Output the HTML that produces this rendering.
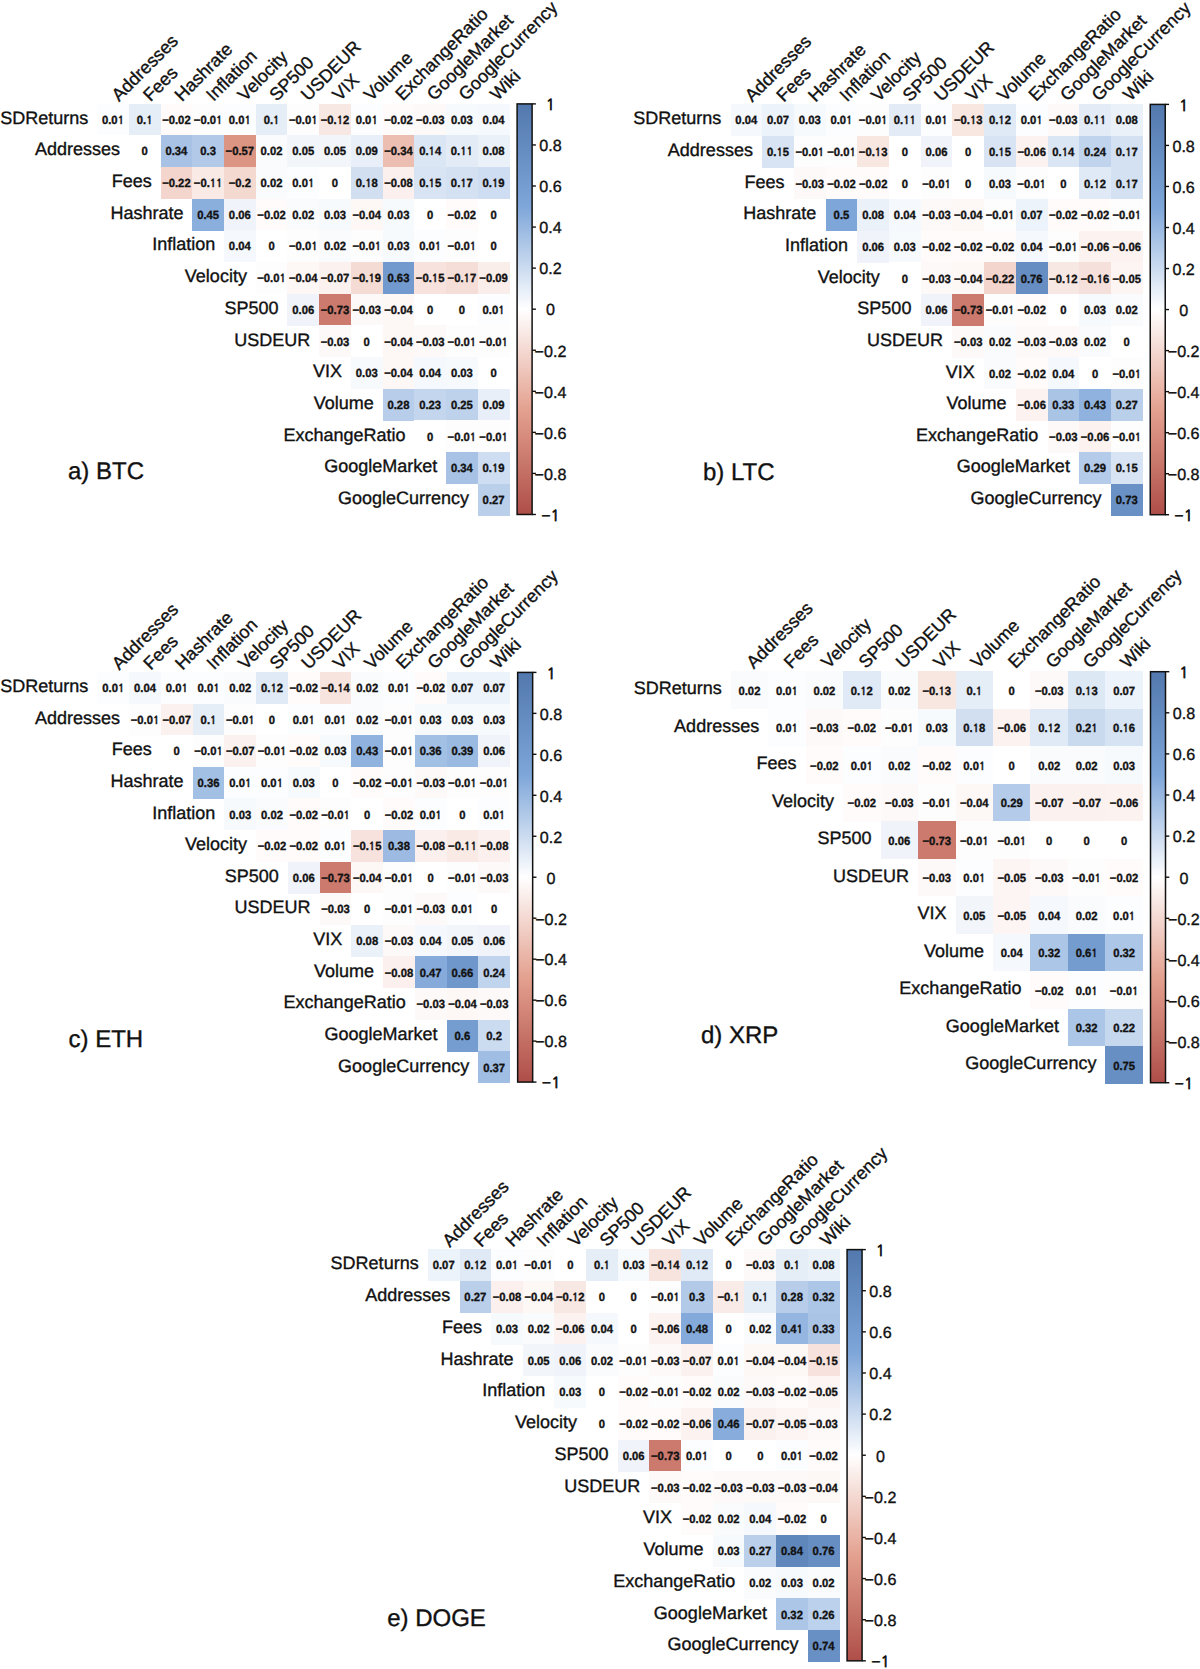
<!DOCTYPE html>
<html lang="en"><head><meta charset="utf-8"><title>Correlation matrices</title>
<style>
html,body{margin:0;padding:0;background:#fff}
svg{display:block}
text{font-family:"Liberation Sans",Arial,Helvetica,sans-serif;fill:#111;stroke:#111;stroke-width:.35px}
.num text{font-size:11.85px;font-weight:700;text-anchor:middle}
.rl text{font-size:18px;text-anchor:end}
.tl text{font-size:18px;text-anchor:start}
.cb text{font-size:16.1px;text-anchor:middle}
.ttl{font-size:24px}
.o{font-family:"NanumGothic","Liberation Sans",sans-serif;font-size:92.6%}
.cb .o{stroke-width:.75px;font-size:95%}
</style></head><body>
<svg width="1200" height="1669" viewBox="0 0 1200 1669" shape-rendering="crispEdges" text-rendering="geometricPrecision">
<defs><linearGradient id="g" x1="0" y1="0" x2="0" y2="1"><stop offset="0.000" stop-color="#5278ad"/><stop offset="0.250" stop-color="#7ea6d9"/><stop offset="0.500" stop-color="#ffffff"/><stop offset="0.750" stop-color="#e39f8d"/><stop offset="1.000" stop-color="#ae4e48"/></linearGradient></defs>
<rect width="1200" height="1669" fill="#fff"/>
<g class="panel" id="btc">
<rect x="97.10" y="103.50" width="32.02" height="31.98" fill="#fcfdfe"/>
<rect x="128.82" y="103.50" width="32.02" height="31.98" fill="#e5edf7"/>
<rect x="160.54" y="103.50" width="32.02" height="31.98" fill="#fefbfa"/>
<rect x="192.26" y="103.50" width="32.02" height="31.98" fill="#fefdfd"/>
<rect x="223.98" y="103.50" width="32.02" height="31.98" fill="#fcfdfe"/>
<rect x="255.70" y="103.50" width="32.02" height="31.98" fill="#e5edf7"/>
<rect x="287.42" y="103.50" width="32.02" height="31.98" fill="#fefdfd"/>
<rect x="319.14" y="103.50" width="32.02" height="31.98" fill="#f8e8e4"/>
<rect x="350.86" y="103.50" width="32.02" height="31.98" fill="#fcfdfe"/>
<rect x="382.58" y="103.50" width="32.02" height="31.98" fill="#fefbfa"/>
<rect x="414.30" y="103.50" width="32.02" height="31.98" fill="#fdf9f8"/>
<rect x="446.02" y="103.50" width="32.02" height="31.98" fill="#f7fafd"/>
<rect x="477.74" y="103.50" width="32.02" height="31.98" fill="#f5f8fc"/>
<rect x="128.82" y="135.18" width="32.02" height="31.98" fill="#ffffff"/>
<rect x="160.54" y="135.18" width="32.02" height="31.98" fill="#a7c2e5"/>
<rect x="192.26" y="135.18" width="32.02" height="31.98" fill="#b2cae8"/>
<rect x="223.98" y="135.18" width="32.02" height="31.98" fill="#dc9483"/>
<rect x="255.70" y="135.18" width="32.02" height="31.98" fill="#fafbfd"/>
<rect x="287.42" y="135.18" width="32.02" height="31.98" fill="#f2f6fb"/>
<rect x="319.14" y="135.18" width="32.02" height="31.98" fill="#f2f6fb"/>
<rect x="350.86" y="135.18" width="32.02" height="31.98" fill="#e8eff8"/>
<rect x="382.58" y="135.18" width="32.02" height="31.98" fill="#ecbeb1"/>
<rect x="414.30" y="135.18" width="32.02" height="31.98" fill="#dbe6f4"/>
<rect x="446.02" y="135.18" width="32.02" height="31.98" fill="#e3ebf7"/>
<rect x="477.74" y="135.18" width="32.02" height="31.98" fill="#eaf1f9"/>
<rect x="160.54" y="166.86" width="32.02" height="31.98" fill="#f3d5cd"/>
<rect x="192.26" y="166.86" width="32.02" height="31.98" fill="#f9eae6"/>
<rect x="223.98" y="166.86" width="32.02" height="31.98" fill="#f4d9d1"/>
<rect x="255.70" y="166.86" width="32.02" height="31.98" fill="#fafbfd"/>
<rect x="287.42" y="166.86" width="32.02" height="31.98" fill="#fcfdfe"/>
<rect x="319.14" y="166.86" width="32.02" height="31.98" fill="#ffffff"/>
<rect x="350.86" y="166.86" width="32.02" height="31.98" fill="#d1dff1"/>
<rect x="382.58" y="166.86" width="32.02" height="31.98" fill="#fbf0ed"/>
<rect x="414.30" y="166.86" width="32.02" height="31.98" fill="#d8e4f4"/>
<rect x="446.02" y="166.86" width="32.02" height="31.98" fill="#d3e1f2"/>
<rect x="477.74" y="166.86" width="32.02" height="31.98" fill="#ceddf1"/>
<rect x="192.26" y="198.54" width="32.02" height="31.98" fill="#8bafdd"/>
<rect x="223.98" y="198.54" width="32.02" height="31.98" fill="#f0f4fa"/>
<rect x="255.70" y="198.54" width="32.02" height="31.98" fill="#fefbfa"/>
<rect x="287.42" y="198.54" width="32.02" height="31.98" fill="#fafbfd"/>
<rect x="319.14" y="198.54" width="32.02" height="31.98" fill="#f7fafd"/>
<rect x="350.86" y="198.54" width="32.02" height="31.98" fill="#fdf7f6"/>
<rect x="382.58" y="198.54" width="32.02" height="31.98" fill="#f7fafd"/>
<rect x="414.30" y="198.54" width="32.02" height="31.98" fill="#ffffff"/>
<rect x="446.02" y="198.54" width="32.02" height="31.98" fill="#fefbfa"/>
<rect x="477.74" y="198.54" width="32.02" height="31.98" fill="#ffffff"/>
<rect x="223.98" y="230.22" width="32.02" height="31.98" fill="#f5f8fc"/>
<rect x="255.70" y="230.22" width="32.02" height="31.98" fill="#ffffff"/>
<rect x="287.42" y="230.22" width="32.02" height="31.98" fill="#fefdfd"/>
<rect x="319.14" y="230.22" width="32.02" height="31.98" fill="#fafbfd"/>
<rect x="350.86" y="230.22" width="32.02" height="31.98" fill="#fefdfd"/>
<rect x="382.58" y="230.22" width="32.02" height="31.98" fill="#f7fafd"/>
<rect x="414.30" y="230.22" width="32.02" height="31.98" fill="#fcfdfe"/>
<rect x="446.02" y="230.22" width="32.02" height="31.98" fill="#fefdfd"/>
<rect x="477.74" y="230.22" width="32.02" height="31.98" fill="#ffffff"/>
<rect x="255.70" y="261.90" width="32.02" height="31.98" fill="#fefdfd"/>
<rect x="287.42" y="261.90" width="32.02" height="31.98" fill="#fdf7f6"/>
<rect x="319.14" y="261.90" width="32.02" height="31.98" fill="#fbf2ef"/>
<rect x="350.86" y="261.90" width="32.02" height="31.98" fill="#f4dbd4"/>
<rect x="382.58" y="261.90" width="32.02" height="31.98" fill="#739ace"/>
<rect x="414.30" y="261.90" width="32.02" height="31.98" fill="#f7e2dd"/>
<rect x="446.02" y="261.90" width="32.02" height="31.98" fill="#f5ded8"/>
<rect x="477.74" y="261.90" width="32.02" height="31.98" fill="#faeeea"/>
<rect x="287.42" y="293.58" width="32.02" height="31.98" fill="#f0f4fa"/>
<rect x="319.14" y="293.58" width="32.02" height="31.98" fill="#cb7a6d"/>
<rect x="350.86" y="293.58" width="32.02" height="31.98" fill="#fdf9f8"/>
<rect x="382.58" y="293.58" width="32.02" height="31.98" fill="#fdf7f6"/>
<rect x="414.30" y="293.58" width="32.02" height="31.98" fill="#ffffff"/>
<rect x="446.02" y="293.58" width="32.02" height="31.98" fill="#ffffff"/>
<rect x="477.74" y="293.58" width="32.02" height="31.98" fill="#fcfdfe"/>
<rect x="319.14" y="325.26" width="32.02" height="31.98" fill="#fdf9f8"/>
<rect x="350.86" y="325.26" width="32.02" height="31.98" fill="#ffffff"/>
<rect x="382.58" y="325.26" width="32.02" height="31.98" fill="#fdf7f6"/>
<rect x="414.30" y="325.26" width="32.02" height="31.98" fill="#fdf9f8"/>
<rect x="446.02" y="325.26" width="32.02" height="31.98" fill="#fefdfd"/>
<rect x="477.74" y="325.26" width="32.02" height="31.98" fill="#fefdfd"/>
<rect x="350.86" y="356.94" width="32.02" height="31.98" fill="#f7fafd"/>
<rect x="382.58" y="356.94" width="32.02" height="31.98" fill="#fdf7f6"/>
<rect x="414.30" y="356.94" width="32.02" height="31.98" fill="#f5f8fc"/>
<rect x="446.02" y="356.94" width="32.02" height="31.98" fill="#f7fafd"/>
<rect x="477.74" y="356.94" width="32.02" height="31.98" fill="#ffffff"/>
<rect x="382.58" y="388.62" width="32.02" height="31.98" fill="#b7cdea"/>
<rect x="414.30" y="388.62" width="32.02" height="31.98" fill="#c4d6ee"/>
<rect x="446.02" y="388.62" width="32.02" height="31.98" fill="#bed2ec"/>
<rect x="477.74" y="388.62" width="32.02" height="31.98" fill="#e8eff8"/>
<rect x="414.30" y="420.30" width="32.02" height="31.98" fill="#ffffff"/>
<rect x="446.02" y="420.30" width="32.02" height="31.98" fill="#fefdfd"/>
<rect x="477.74" y="420.30" width="32.02" height="31.98" fill="#fefdfd"/>
<rect x="446.02" y="451.98" width="32.02" height="31.98" fill="#a7c2e5"/>
<rect x="477.74" y="451.98" width="32.02" height="31.98" fill="#ceddf1"/>
<rect x="477.74" y="483.66" width="32.02" height="31.98" fill="#b9cfea"/>
<g class="num">
<text transform="translate(112.96 123.74) scale(0.952 1)">0.0<tspan class="o">1</tspan></text>
<text transform="translate(144.68 123.74) scale(0.952 1)">0.<tspan class="o">1</tspan></text>
<text transform="translate(176.40 123.74) scale(0.952 1)">−0.02</text>
<text transform="translate(208.12 123.74) scale(0.952 1)">−0.0<tspan class="o">1</tspan></text>
<text transform="translate(239.84 123.74) scale(0.952 1)">0.0<tspan class="o">1</tspan></text>
<text transform="translate(271.56 123.74) scale(0.952 1)">0.<tspan class="o">1</tspan></text>
<text transform="translate(303.28 123.74) scale(0.952 1)">−0.0<tspan class="o">1</tspan></text>
<text transform="translate(335.00 123.74) scale(0.952 1)">−0.<tspan class="o">1</tspan>2</text>
<text transform="translate(366.72 123.74) scale(0.952 1)">0.0<tspan class="o">1</tspan></text>
<text transform="translate(398.44 123.74) scale(0.952 1)">−0.02</text>
<text transform="translate(430.16 123.74) scale(0.952 1)">−0.03</text>
<text transform="translate(461.88 123.74) scale(0.952 1)">0.03</text>
<text transform="translate(493.60 123.74) scale(0.952 1)">0.04</text>
<text transform="translate(144.68 155.42) scale(0.952 1)">0</text>
<text transform="translate(176.40 155.42) scale(0.952 1)">0.34</text>
<text transform="translate(208.12 155.42) scale(0.952 1)">0.3</text>
<text transform="translate(239.84 155.42) scale(0.952 1)">−0.57</text>
<text transform="translate(271.56 155.42) scale(0.952 1)">0.02</text>
<text transform="translate(303.28 155.42) scale(0.952 1)">0.05</text>
<text transform="translate(335.00 155.42) scale(0.952 1)">0.05</text>
<text transform="translate(366.72 155.42) scale(0.952 1)">0.09</text>
<text transform="translate(398.44 155.42) scale(0.952 1)">−0.34</text>
<text transform="translate(430.16 155.42) scale(0.952 1)">0.<tspan class="o">1</tspan>4</text>
<text transform="translate(461.88 155.42) scale(0.952 1)">0.<tspan class="o">11</tspan></text>
<text transform="translate(493.60 155.42) scale(0.952 1)">0.08</text>
<text transform="translate(176.40 187.10) scale(0.952 1)">−0.22</text>
<text transform="translate(208.12 187.10) scale(0.952 1)">−0.<tspan class="o">11</tspan></text>
<text transform="translate(239.84 187.10) scale(0.952 1)">−0.2</text>
<text transform="translate(271.56 187.10) scale(0.952 1)">0.02</text>
<text transform="translate(303.28 187.10) scale(0.952 1)">0.0<tspan class="o">1</tspan></text>
<text transform="translate(335.00 187.10) scale(0.952 1)">0</text>
<text transform="translate(366.72 187.10) scale(0.952 1)">0.<tspan class="o">1</tspan>8</text>
<text transform="translate(398.44 187.10) scale(0.952 1)">−0.08</text>
<text transform="translate(430.16 187.10) scale(0.952 1)">0.<tspan class="o">1</tspan>5</text>
<text transform="translate(461.88 187.10) scale(0.952 1)">0.<tspan class="o">1</tspan>7</text>
<text transform="translate(493.60 187.10) scale(0.952 1)">0.<tspan class="o">1</tspan>9</text>
<text transform="translate(208.12 218.78) scale(0.952 1)">0.45</text>
<text transform="translate(239.84 218.78) scale(0.952 1)">0.06</text>
<text transform="translate(271.56 218.78) scale(0.952 1)">−0.02</text>
<text transform="translate(303.28 218.78) scale(0.952 1)">0.02</text>
<text transform="translate(335.00 218.78) scale(0.952 1)">0.03</text>
<text transform="translate(366.72 218.78) scale(0.952 1)">−0.04</text>
<text transform="translate(398.44 218.78) scale(0.952 1)">0.03</text>
<text transform="translate(430.16 218.78) scale(0.952 1)">0</text>
<text transform="translate(461.88 218.78) scale(0.952 1)">−0.02</text>
<text transform="translate(493.60 218.78) scale(0.952 1)">0</text>
<text transform="translate(239.84 250.46) scale(0.952 1)">0.04</text>
<text transform="translate(271.56 250.46) scale(0.952 1)">0</text>
<text transform="translate(303.28 250.46) scale(0.952 1)">−0.0<tspan class="o">1</tspan></text>
<text transform="translate(335.00 250.46) scale(0.952 1)">0.02</text>
<text transform="translate(366.72 250.46) scale(0.952 1)">−0.0<tspan class="o">1</tspan></text>
<text transform="translate(398.44 250.46) scale(0.952 1)">0.03</text>
<text transform="translate(430.16 250.46) scale(0.952 1)">0.0<tspan class="o">1</tspan></text>
<text transform="translate(461.88 250.46) scale(0.952 1)">−0.0<tspan class="o">1</tspan></text>
<text transform="translate(493.60 250.46) scale(0.952 1)">0</text>
<text transform="translate(271.56 282.14) scale(0.952 1)">−0.0<tspan class="o">1</tspan></text>
<text transform="translate(303.28 282.14) scale(0.952 1)">−0.04</text>
<text transform="translate(335.00 282.14) scale(0.952 1)">−0.07</text>
<text transform="translate(366.72 282.14) scale(0.952 1)">−0.<tspan class="o">1</tspan>9</text>
<text transform="translate(398.44 282.14) scale(0.952 1)">0.63</text>
<text transform="translate(430.16 282.14) scale(0.952 1)">−0.<tspan class="o">1</tspan>5</text>
<text transform="translate(461.88 282.14) scale(0.952 1)">−0.<tspan class="o">1</tspan>7</text>
<text transform="translate(493.60 282.14) scale(0.952 1)">−0.09</text>
<text transform="translate(303.28 313.82) scale(0.952 1)">0.06</text>
<text transform="translate(335.00 313.82) scale(0.952 1)">−0.73</text>
<text transform="translate(366.72 313.82) scale(0.952 1)">−0.03</text>
<text transform="translate(398.44 313.82) scale(0.952 1)">−0.04</text>
<text transform="translate(430.16 313.82) scale(0.952 1)">0</text>
<text transform="translate(461.88 313.82) scale(0.952 1)">0</text>
<text transform="translate(493.60 313.82) scale(0.952 1)">0.0<tspan class="o">1</tspan></text>
<text transform="translate(335.00 345.50) scale(0.952 1)">−0.03</text>
<text transform="translate(366.72 345.50) scale(0.952 1)">0</text>
<text transform="translate(398.44 345.50) scale(0.952 1)">−0.04</text>
<text transform="translate(430.16 345.50) scale(0.952 1)">−0.03</text>
<text transform="translate(461.88 345.50) scale(0.952 1)">−0.0<tspan class="o">1</tspan></text>
<text transform="translate(493.60 345.50) scale(0.952 1)">−0.0<tspan class="o">1</tspan></text>
<text transform="translate(366.72 377.18) scale(0.952 1)">0.03</text>
<text transform="translate(398.44 377.18) scale(0.952 1)">−0.04</text>
<text transform="translate(430.16 377.18) scale(0.952 1)">0.04</text>
<text transform="translate(461.88 377.18) scale(0.952 1)">0.03</text>
<text transform="translate(493.60 377.18) scale(0.952 1)">0</text>
<text transform="translate(398.44 408.86) scale(0.952 1)">0.28</text>
<text transform="translate(430.16 408.86) scale(0.952 1)">0.23</text>
<text transform="translate(461.88 408.86) scale(0.952 1)">0.25</text>
<text transform="translate(493.60 408.86) scale(0.952 1)">0.09</text>
<text transform="translate(430.16 440.54) scale(0.952 1)">0</text>
<text transform="translate(461.88 440.54) scale(0.952 1)">−0.0<tspan class="o">1</tspan></text>
<text transform="translate(493.60 440.54) scale(0.952 1)">−0.0<tspan class="o">1</tspan></text>
<text transform="translate(461.88 472.22) scale(0.952 1)">0.34</text>
<text transform="translate(493.60 472.22) scale(0.952 1)">0.<tspan class="o">1</tspan>9</text>
<text transform="translate(493.60 503.90) scale(0.952 1)">0.27</text>
</g>
<g class="rl">
<text x="88.30" y="123.74">SDReturns</text>
<text x="120.02" y="155.42">Addresses</text>
<text x="151.74" y="187.10">Fees</text>
<text x="183.46" y="218.78">Hashrate</text>
<text x="215.18" y="250.46">Inflation</text>
<text x="246.90" y="282.14">Velocity</text>
<text x="278.62" y="313.82">SP500</text>
<text x="310.34" y="345.50">USDEUR</text>
<text x="342.06" y="377.18">VIX</text>
<text x="373.78" y="408.86">Volume</text>
<text x="405.50" y="440.54">ExchangeRatio</text>
<text x="437.22" y="472.22">GoogleMarket</text>
<text x="468.94" y="503.90">GoogleCurrency</text>
</g>
<g class="tl">
<text transform="translate(118.96 102.30) rotate(-45)">Addresses</text>
<text transform="translate(150.50 102.22) rotate(-45)">Fees</text>
<text transform="translate(182.04 102.14) rotate(-45)">Hashrate</text>
<text transform="translate(213.58 102.06) rotate(-45)">Inflation</text>
<text transform="translate(245.12 101.98) rotate(-45)">Velocity</text>
<text transform="translate(276.66 101.90) rotate(-45)">SP500</text>
<text transform="translate(308.20 101.82) rotate(-45)">USDEUR</text>
<text transform="translate(339.74 101.74) rotate(-45)">VIX</text>
<text transform="translate(371.28 101.66) rotate(-45)">Volume</text>
<text transform="translate(402.82 101.58) rotate(-45)">ExchangeRatio</text>
<text transform="translate(434.36 101.50) rotate(-45)">GoogleMarket</text>
<text transform="translate(465.90 101.42) rotate(-45)">GoogleCurrency</text>
<text transform="translate(497.44 101.34) rotate(-45)">Wiki</text>
</g>
<rect x="517.10" y="103.90" width="15" height="410.58" fill="url(#g)" stroke="#111" stroke-width="1.5" shape-rendering="geometricPrecision"/>
<g class="cb">
<line x1="532.10" x2="535.90" y1="103.90" y2="103.90" stroke="#111" stroke-width="1.4" shape-rendering="geometricPrecision"/>
<text x="550.50" y="110.20"><tspan class="o">1</tspan></text>
<line x1="532.10" x2="535.90" y1="144.96" y2="144.96" stroke="#111" stroke-width="1.4" shape-rendering="geometricPrecision"/>
<text x="550.50" y="151.26">0.8</text>
<line x1="532.10" x2="535.90" y1="186.02" y2="186.02" stroke="#111" stroke-width="1.4" shape-rendering="geometricPrecision"/>
<text x="550.50" y="192.32">0.6</text>
<line x1="532.10" x2="535.90" y1="227.07" y2="227.07" stroke="#111" stroke-width="1.4" shape-rendering="geometricPrecision"/>
<text x="550.50" y="233.37">0.4</text>
<line x1="532.10" x2="535.90" y1="268.13" y2="268.13" stroke="#111" stroke-width="1.4" shape-rendering="geometricPrecision"/>
<text x="550.50" y="274.43">0.2</text>
<line x1="532.10" x2="535.90" y1="309.19" y2="309.19" stroke="#111" stroke-width="1.4" shape-rendering="geometricPrecision"/>
<text x="550.50" y="315.49">0</text>
<line x1="532.10" x2="535.90" y1="350.25" y2="350.25" stroke="#111" stroke-width="1.4" shape-rendering="geometricPrecision"/>
<text x="550.50" y="356.55">−0.2</text>
<line x1="532.10" x2="535.90" y1="391.31" y2="391.31" stroke="#111" stroke-width="1.4" shape-rendering="geometricPrecision"/>
<text x="550.50" y="397.61">−0.4</text>
<line x1="532.10" x2="535.90" y1="432.36" y2="432.36" stroke="#111" stroke-width="1.4" shape-rendering="geometricPrecision"/>
<text x="550.50" y="438.66">−0.6</text>
<line x1="532.10" x2="535.90" y1="473.42" y2="473.42" stroke="#111" stroke-width="1.4" shape-rendering="geometricPrecision"/>
<text x="550.50" y="479.72">−0.8</text>
<line x1="532.10" x2="535.90" y1="514.48" y2="514.48" stroke="#111" stroke-width="1.4" shape-rendering="geometricPrecision"/>
<text x="550.50" y="520.78">−<tspan class="o">1</tspan></text>
</g>
<text class="ttl" x="68" y="479.3">a) BTC</text>
</g>
<g class="panel" id="ltc">
<rect x="730.50" y="104.00" width="32.00" height="31.96" fill="#f5f8fc"/>
<rect x="762.20" y="104.00" width="32.00" height="31.96" fill="#edf3fa"/>
<rect x="793.90" y="104.00" width="32.00" height="31.96" fill="#f7fafd"/>
<rect x="825.60" y="104.00" width="32.00" height="31.96" fill="#fcfdfe"/>
<rect x="857.30" y="104.00" width="32.00" height="31.96" fill="#fefdfd"/>
<rect x="889.00" y="104.00" width="32.00" height="31.96" fill="#e3ebf7"/>
<rect x="920.70" y="104.00" width="32.00" height="31.96" fill="#fcfdfe"/>
<rect x="952.40" y="104.00" width="32.00" height="31.96" fill="#f8e6e1"/>
<rect x="984.10" y="104.00" width="32.00" height="31.96" fill="#e0eaf6"/>
<rect x="1015.80" y="104.00" width="32.00" height="31.96" fill="#fcfdfe"/>
<rect x="1047.50" y="104.00" width="32.00" height="31.96" fill="#fdf9f8"/>
<rect x="1079.20" y="104.00" width="32.00" height="31.96" fill="#e3ebf7"/>
<rect x="1110.90" y="104.00" width="32.00" height="31.96" fill="#eaf1f9"/>
<rect x="762.20" y="135.66" width="32.00" height="31.96" fill="#d8e4f4"/>
<rect x="793.90" y="135.66" width="32.00" height="31.96" fill="#fefdfd"/>
<rect x="825.60" y="135.66" width="32.00" height="31.96" fill="#fefdfd"/>
<rect x="857.30" y="135.66" width="32.00" height="31.96" fill="#f8e6e1"/>
<rect x="889.00" y="135.66" width="32.00" height="31.96" fill="#ffffff"/>
<rect x="920.70" y="135.66" width="32.00" height="31.96" fill="#f0f4fa"/>
<rect x="952.40" y="135.66" width="32.00" height="31.96" fill="#ffffff"/>
<rect x="984.10" y="135.66" width="32.00" height="31.96" fill="#d8e4f4"/>
<rect x="1015.80" y="135.66" width="32.00" height="31.96" fill="#fcf3f1"/>
<rect x="1047.50" y="135.66" width="32.00" height="31.96" fill="#dbe6f4"/>
<rect x="1079.20" y="135.66" width="32.00" height="31.96" fill="#c1d4ed"/>
<rect x="1110.90" y="135.66" width="32.00" height="31.96" fill="#d3e1f2"/>
<rect x="793.90" y="167.32" width="32.00" height="31.96" fill="#fdf9f8"/>
<rect x="825.60" y="167.32" width="32.00" height="31.96" fill="#fefbfa"/>
<rect x="857.30" y="167.32" width="32.00" height="31.96" fill="#fefbfa"/>
<rect x="889.00" y="167.32" width="32.00" height="31.96" fill="#ffffff"/>
<rect x="920.70" y="167.32" width="32.00" height="31.96" fill="#fefdfd"/>
<rect x="952.40" y="167.32" width="32.00" height="31.96" fill="#ffffff"/>
<rect x="984.10" y="167.32" width="32.00" height="31.96" fill="#f7fafd"/>
<rect x="1015.80" y="167.32" width="32.00" height="31.96" fill="#fefdfd"/>
<rect x="1047.50" y="167.32" width="32.00" height="31.96" fill="#ffffff"/>
<rect x="1079.20" y="167.32" width="32.00" height="31.96" fill="#e0eaf6"/>
<rect x="1110.90" y="167.32" width="32.00" height="31.96" fill="#d3e1f2"/>
<rect x="825.60" y="198.98" width="32.00" height="31.96" fill="#7ea6d9"/>
<rect x="857.30" y="198.98" width="32.00" height="31.96" fill="#eaf1f9"/>
<rect x="889.00" y="198.98" width="32.00" height="31.96" fill="#f5f8fc"/>
<rect x="920.70" y="198.98" width="32.00" height="31.96" fill="#fdf9f8"/>
<rect x="952.40" y="198.98" width="32.00" height="31.96" fill="#fdf7f6"/>
<rect x="984.10" y="198.98" width="32.00" height="31.96" fill="#fefdfd"/>
<rect x="1015.80" y="198.98" width="32.00" height="31.96" fill="#edf3fa"/>
<rect x="1047.50" y="198.98" width="32.00" height="31.96" fill="#fefbfa"/>
<rect x="1079.20" y="198.98" width="32.00" height="31.96" fill="#fefbfa"/>
<rect x="1110.90" y="198.98" width="32.00" height="31.96" fill="#fefdfd"/>
<rect x="857.30" y="230.64" width="32.00" height="31.96" fill="#f0f4fa"/>
<rect x="889.00" y="230.64" width="32.00" height="31.96" fill="#f7fafd"/>
<rect x="920.70" y="230.64" width="32.00" height="31.96" fill="#fefbfa"/>
<rect x="952.40" y="230.64" width="32.00" height="31.96" fill="#fefbfa"/>
<rect x="984.10" y="230.64" width="32.00" height="31.96" fill="#fefbfa"/>
<rect x="1015.80" y="230.64" width="32.00" height="31.96" fill="#f5f8fc"/>
<rect x="1047.50" y="230.64" width="32.00" height="31.96" fill="#fefdfd"/>
<rect x="1079.20" y="230.64" width="32.00" height="31.96" fill="#fcf3f1"/>
<rect x="1110.90" y="230.64" width="32.00" height="31.96" fill="#fcf3f1"/>
<rect x="889.00" y="262.30" width="32.00" height="31.96" fill="#ffffff"/>
<rect x="920.70" y="262.30" width="32.00" height="31.96" fill="#fdf9f8"/>
<rect x="952.40" y="262.30" width="32.00" height="31.96" fill="#fdf7f6"/>
<rect x="984.10" y="262.30" width="32.00" height="31.96" fill="#f3d5cd"/>
<rect x="1015.80" y="262.30" width="32.00" height="31.96" fill="#678ec2"/>
<rect x="1047.50" y="262.30" width="32.00" height="31.96" fill="#f8e8e4"/>
<rect x="1079.20" y="262.30" width="32.00" height="31.96" fill="#f6e0db"/>
<rect x="1110.90" y="262.30" width="32.00" height="31.96" fill="#fcf5f4"/>
<rect x="920.70" y="293.96" width="32.00" height="31.96" fill="#f0f4fa"/>
<rect x="952.40" y="293.96" width="32.00" height="31.96" fill="#cb7a6d"/>
<rect x="984.10" y="293.96" width="32.00" height="31.96" fill="#fefdfd"/>
<rect x="1015.80" y="293.96" width="32.00" height="31.96" fill="#fefbfa"/>
<rect x="1047.50" y="293.96" width="32.00" height="31.96" fill="#ffffff"/>
<rect x="1079.20" y="293.96" width="32.00" height="31.96" fill="#f7fafd"/>
<rect x="1110.90" y="293.96" width="32.00" height="31.96" fill="#fafbfd"/>
<rect x="952.40" y="325.62" width="32.00" height="31.96" fill="#fdf9f8"/>
<rect x="984.10" y="325.62" width="32.00" height="31.96" fill="#fafbfd"/>
<rect x="1015.80" y="325.62" width="32.00" height="31.96" fill="#fdf9f8"/>
<rect x="1047.50" y="325.62" width="32.00" height="31.96" fill="#fdf9f8"/>
<rect x="1079.20" y="325.62" width="32.00" height="31.96" fill="#fafbfd"/>
<rect x="1110.90" y="325.62" width="32.00" height="31.96" fill="#ffffff"/>
<rect x="984.10" y="357.28" width="32.00" height="31.96" fill="#fafbfd"/>
<rect x="1015.80" y="357.28" width="32.00" height="31.96" fill="#fefbfa"/>
<rect x="1047.50" y="357.28" width="32.00" height="31.96" fill="#f5f8fc"/>
<rect x="1079.20" y="357.28" width="32.00" height="31.96" fill="#ffffff"/>
<rect x="1110.90" y="357.28" width="32.00" height="31.96" fill="#fefdfd"/>
<rect x="1015.80" y="388.94" width="32.00" height="31.96" fill="#fcf3f1"/>
<rect x="1047.50" y="388.94" width="32.00" height="31.96" fill="#aac4e6"/>
<rect x="1079.20" y="388.94" width="32.00" height="31.96" fill="#90b2de"/>
<rect x="1110.90" y="388.94" width="32.00" height="31.96" fill="#b9cfea"/>
<rect x="1047.50" y="420.60" width="32.00" height="31.96" fill="#fdf9f8"/>
<rect x="1079.20" y="420.60" width="32.00" height="31.96" fill="#fcf3f1"/>
<rect x="1110.90" y="420.60" width="32.00" height="31.96" fill="#fefdfd"/>
<rect x="1079.20" y="452.26" width="32.00" height="31.96" fill="#b4cbe9"/>
<rect x="1110.90" y="452.26" width="32.00" height="31.96" fill="#d8e4f4"/>
<rect x="1110.90" y="483.92" width="32.00" height="31.96" fill="#6a91c5"/>
<g class="num">
<text transform="translate(746.35 124.23) scale(0.952 1)">0.04</text>
<text transform="translate(778.05 124.23) scale(0.952 1)">0.07</text>
<text transform="translate(809.75 124.23) scale(0.952 1)">0.03</text>
<text transform="translate(841.45 124.23) scale(0.952 1)">0.0<tspan class="o">1</tspan></text>
<text transform="translate(873.15 124.23) scale(0.952 1)">−0.0<tspan class="o">1</tspan></text>
<text transform="translate(904.85 124.23) scale(0.952 1)">0.<tspan class="o">11</tspan></text>
<text transform="translate(936.55 124.23) scale(0.952 1)">0.0<tspan class="o">1</tspan></text>
<text transform="translate(968.25 124.23) scale(0.952 1)">−0.<tspan class="o">1</tspan>3</text>
<text transform="translate(999.95 124.23) scale(0.952 1)">0.<tspan class="o">1</tspan>2</text>
<text transform="translate(1031.65 124.23) scale(0.952 1)">0.0<tspan class="o">1</tspan></text>
<text transform="translate(1063.35 124.23) scale(0.952 1)">−0.03</text>
<text transform="translate(1095.05 124.23) scale(0.952 1)">0.<tspan class="o">11</tspan></text>
<text transform="translate(1126.75 124.23) scale(0.952 1)">0.08</text>
<text transform="translate(778.05 155.89) scale(0.952 1)">0.<tspan class="o">1</tspan>5</text>
<text transform="translate(809.75 155.89) scale(0.952 1)">−0.0<tspan class="o">1</tspan></text>
<text transform="translate(841.45 155.89) scale(0.952 1)">−0.0<tspan class="o">1</tspan></text>
<text transform="translate(873.15 155.89) scale(0.952 1)">−0.<tspan class="o">1</tspan>3</text>
<text transform="translate(904.85 155.89) scale(0.952 1)">0</text>
<text transform="translate(936.55 155.89) scale(0.952 1)">0.06</text>
<text transform="translate(968.25 155.89) scale(0.952 1)">0</text>
<text transform="translate(999.95 155.89) scale(0.952 1)">0.<tspan class="o">1</tspan>5</text>
<text transform="translate(1031.65 155.89) scale(0.952 1)">−0.06</text>
<text transform="translate(1063.35 155.89) scale(0.952 1)">0.<tspan class="o">1</tspan>4</text>
<text transform="translate(1095.05 155.89) scale(0.952 1)">0.24</text>
<text transform="translate(1126.75 155.89) scale(0.952 1)">0.<tspan class="o">1</tspan>7</text>
<text transform="translate(809.75 187.55) scale(0.952 1)">−0.03</text>
<text transform="translate(841.45 187.55) scale(0.952 1)">−0.02</text>
<text transform="translate(873.15 187.55) scale(0.952 1)">−0.02</text>
<text transform="translate(904.85 187.55) scale(0.952 1)">0</text>
<text transform="translate(936.55 187.55) scale(0.952 1)">−0.0<tspan class="o">1</tspan></text>
<text transform="translate(968.25 187.55) scale(0.952 1)">0</text>
<text transform="translate(999.95 187.55) scale(0.952 1)">0.03</text>
<text transform="translate(1031.65 187.55) scale(0.952 1)">−0.0<tspan class="o">1</tspan></text>
<text transform="translate(1063.35 187.55) scale(0.952 1)">0</text>
<text transform="translate(1095.05 187.55) scale(0.952 1)">0.<tspan class="o">1</tspan>2</text>
<text transform="translate(1126.75 187.55) scale(0.952 1)">0.<tspan class="o">1</tspan>7</text>
<text transform="translate(841.45 219.21) scale(0.952 1)">0.5</text>
<text transform="translate(873.15 219.21) scale(0.952 1)">0.08</text>
<text transform="translate(904.85 219.21) scale(0.952 1)">0.04</text>
<text transform="translate(936.55 219.21) scale(0.952 1)">−0.03</text>
<text transform="translate(968.25 219.21) scale(0.952 1)">−0.04</text>
<text transform="translate(999.95 219.21) scale(0.952 1)">−0.0<tspan class="o">1</tspan></text>
<text transform="translate(1031.65 219.21) scale(0.952 1)">0.07</text>
<text transform="translate(1063.35 219.21) scale(0.952 1)">−0.02</text>
<text transform="translate(1095.05 219.21) scale(0.952 1)">−0.02</text>
<text transform="translate(1126.75 219.21) scale(0.952 1)">−0.0<tspan class="o">1</tspan></text>
<text transform="translate(873.15 250.87) scale(0.952 1)">0.06</text>
<text transform="translate(904.85 250.87) scale(0.952 1)">0.03</text>
<text transform="translate(936.55 250.87) scale(0.952 1)">−0.02</text>
<text transform="translate(968.25 250.87) scale(0.952 1)">−0.02</text>
<text transform="translate(999.95 250.87) scale(0.952 1)">−0.02</text>
<text transform="translate(1031.65 250.87) scale(0.952 1)">0.04</text>
<text transform="translate(1063.35 250.87) scale(0.952 1)">−0.0<tspan class="o">1</tspan></text>
<text transform="translate(1095.05 250.87) scale(0.952 1)">−0.06</text>
<text transform="translate(1126.75 250.87) scale(0.952 1)">−0.06</text>
<text transform="translate(904.85 282.53) scale(0.952 1)">0</text>
<text transform="translate(936.55 282.53) scale(0.952 1)">−0.03</text>
<text transform="translate(968.25 282.53) scale(0.952 1)">−0.04</text>
<text transform="translate(999.95 282.53) scale(0.952 1)">−0.22</text>
<text transform="translate(1031.65 282.53) scale(0.952 1)">0.76</text>
<text transform="translate(1063.35 282.53) scale(0.952 1)">−0.<tspan class="o">1</tspan>2</text>
<text transform="translate(1095.05 282.53) scale(0.952 1)">−0.<tspan class="o">1</tspan>6</text>
<text transform="translate(1126.75 282.53) scale(0.952 1)">−0.05</text>
<text transform="translate(936.55 314.19) scale(0.952 1)">0.06</text>
<text transform="translate(968.25 314.19) scale(0.952 1)">−0.73</text>
<text transform="translate(999.95 314.19) scale(0.952 1)">−0.0<tspan class="o">1</tspan></text>
<text transform="translate(1031.65 314.19) scale(0.952 1)">−0.02</text>
<text transform="translate(1063.35 314.19) scale(0.952 1)">0</text>
<text transform="translate(1095.05 314.19) scale(0.952 1)">0.03</text>
<text transform="translate(1126.75 314.19) scale(0.952 1)">0.02</text>
<text transform="translate(968.25 345.85) scale(0.952 1)">−0.03</text>
<text transform="translate(999.95 345.85) scale(0.952 1)">0.02</text>
<text transform="translate(1031.65 345.85) scale(0.952 1)">−0.03</text>
<text transform="translate(1063.35 345.85) scale(0.952 1)">−0.03</text>
<text transform="translate(1095.05 345.85) scale(0.952 1)">0.02</text>
<text transform="translate(1126.75 345.85) scale(0.952 1)">0</text>
<text transform="translate(999.95 377.51) scale(0.952 1)">0.02</text>
<text transform="translate(1031.65 377.51) scale(0.952 1)">−0.02</text>
<text transform="translate(1063.35 377.51) scale(0.952 1)">0.04</text>
<text transform="translate(1095.05 377.51) scale(0.952 1)">0</text>
<text transform="translate(1126.75 377.51) scale(0.952 1)">−0.0<tspan class="o">1</tspan></text>
<text transform="translate(1031.65 409.17) scale(0.952 1)">−0.06</text>
<text transform="translate(1063.35 409.17) scale(0.952 1)">0.33</text>
<text transform="translate(1095.05 409.17) scale(0.952 1)">0.43</text>
<text transform="translate(1126.75 409.17) scale(0.952 1)">0.27</text>
<text transform="translate(1063.35 440.83) scale(0.952 1)">−0.03</text>
<text transform="translate(1095.05 440.83) scale(0.952 1)">−0.06</text>
<text transform="translate(1126.75 440.83) scale(0.952 1)">−0.0<tspan class="o">1</tspan></text>
<text transform="translate(1095.05 472.49) scale(0.952 1)">0.29</text>
<text transform="translate(1126.75 472.49) scale(0.952 1)">0.<tspan class="o">1</tspan>5</text>
<text transform="translate(1126.75 504.15) scale(0.952 1)">0.73</text>
</g>
<g class="rl">
<text x="721.20" y="124.23">SDReturns</text>
<text x="752.90" y="155.89">Addresses</text>
<text x="784.60" y="187.55">Fees</text>
<text x="816.30" y="219.21">Hashrate</text>
<text x="848.00" y="250.87">Inflation</text>
<text x="879.70" y="282.53">Velocity</text>
<text x="911.40" y="314.19">SP500</text>
<text x="943.10" y="345.85">USDEUR</text>
<text x="974.80" y="377.51">VIX</text>
<text x="1006.50" y="409.17">Volume</text>
<text x="1038.20" y="440.83">ExchangeRatio</text>
<text x="1069.90" y="472.49">GoogleMarket</text>
<text x="1101.60" y="504.15">GoogleCurrency</text>
</g>
<g class="tl">
<text transform="translate(752.35 102.80) rotate(-45)">Addresses</text>
<text transform="translate(783.87 102.72) rotate(-45)">Fees</text>
<text transform="translate(815.39 102.64) rotate(-45)">Hashrate</text>
<text transform="translate(846.91 102.56) rotate(-45)">Inflation</text>
<text transform="translate(878.43 102.48) rotate(-45)">Velocity</text>
<text transform="translate(909.95 102.40) rotate(-45)">SP500</text>
<text transform="translate(941.47 102.32) rotate(-45)">USDEUR</text>
<text transform="translate(972.99 102.24) rotate(-45)">VIX</text>
<text transform="translate(1004.51 102.16) rotate(-45)">Volume</text>
<text transform="translate(1036.03 102.08) rotate(-45)">ExchangeRatio</text>
<text transform="translate(1067.55 102.00) rotate(-45)">GoogleMarket</text>
<text transform="translate(1099.07 101.92) rotate(-45)">GoogleCurrency</text>
<text transform="translate(1130.59 101.84) rotate(-45)">Wiki</text>
</g>
<rect x="1150.24" y="104.40" width="15" height="410.32" fill="url(#g)" stroke="#111" stroke-width="1.5" shape-rendering="geometricPrecision"/>
<g class="cb">
<line x1="1165.24" x2="1169.04" y1="104.40" y2="104.40" stroke="#111" stroke-width="1.4" shape-rendering="geometricPrecision"/>
<text x="1183.64" y="110.70"><tspan class="o">1</tspan></text>
<line x1="1165.24" x2="1169.04" y1="145.43" y2="145.43" stroke="#111" stroke-width="1.4" shape-rendering="geometricPrecision"/>
<text x="1183.64" y="151.73">0.8</text>
<line x1="1165.24" x2="1169.04" y1="186.46" y2="186.46" stroke="#111" stroke-width="1.4" shape-rendering="geometricPrecision"/>
<text x="1183.64" y="192.76">0.6</text>
<line x1="1165.24" x2="1169.04" y1="227.50" y2="227.50" stroke="#111" stroke-width="1.4" shape-rendering="geometricPrecision"/>
<text x="1183.64" y="233.80">0.4</text>
<line x1="1165.24" x2="1169.04" y1="268.53" y2="268.53" stroke="#111" stroke-width="1.4" shape-rendering="geometricPrecision"/>
<text x="1183.64" y="274.83">0.2</text>
<line x1="1165.24" x2="1169.04" y1="309.56" y2="309.56" stroke="#111" stroke-width="1.4" shape-rendering="geometricPrecision"/>
<text x="1183.64" y="315.86">0</text>
<line x1="1165.24" x2="1169.04" y1="350.59" y2="350.59" stroke="#111" stroke-width="1.4" shape-rendering="geometricPrecision"/>
<text x="1183.64" y="356.89">−0.2</text>
<line x1="1165.24" x2="1169.04" y1="391.62" y2="391.62" stroke="#111" stroke-width="1.4" shape-rendering="geometricPrecision"/>
<text x="1183.64" y="397.92">−0.4</text>
<line x1="1165.24" x2="1169.04" y1="432.66" y2="432.66" stroke="#111" stroke-width="1.4" shape-rendering="geometricPrecision"/>
<text x="1183.64" y="438.96">−0.6</text>
<line x1="1165.24" x2="1169.04" y1="473.69" y2="473.69" stroke="#111" stroke-width="1.4" shape-rendering="geometricPrecision"/>
<text x="1183.64" y="479.99">−0.8</text>
<line x1="1165.24" x2="1169.04" y1="514.72" y2="514.72" stroke="#111" stroke-width="1.4" shape-rendering="geometricPrecision"/>
<text x="1183.64" y="521.02">−<tspan class="o">1</tspan></text>
</g>
<text class="ttl" x="703" y="479.6">b) LTC</text>
</g>
<g class="panel" id="eth">
<rect x="97.40" y="672.00" width="32.04" height="31.91" fill="#fcfdfe"/>
<rect x="129.14" y="672.00" width="32.04" height="31.91" fill="#f5f8fc"/>
<rect x="160.88" y="672.00" width="32.04" height="31.91" fill="#fcfdfe"/>
<rect x="192.62" y="672.00" width="32.04" height="31.91" fill="#fcfdfe"/>
<rect x="224.36" y="672.00" width="32.04" height="31.91" fill="#fafbfd"/>
<rect x="256.10" y="672.00" width="32.04" height="31.91" fill="#e0eaf6"/>
<rect x="287.84" y="672.00" width="32.04" height="31.91" fill="#fefbfa"/>
<rect x="319.58" y="672.00" width="32.04" height="31.91" fill="#f7e4df"/>
<rect x="351.32" y="672.00" width="32.04" height="31.91" fill="#fafbfd"/>
<rect x="383.06" y="672.00" width="32.04" height="31.91" fill="#fcfdfe"/>
<rect x="414.80" y="672.00" width="32.04" height="31.91" fill="#fefbfa"/>
<rect x="446.54" y="672.00" width="32.04" height="31.91" fill="#edf3fa"/>
<rect x="478.28" y="672.00" width="32.04" height="31.91" fill="#edf3fa"/>
<rect x="129.14" y="703.61" width="32.04" height="31.91" fill="#fefdfd"/>
<rect x="160.88" y="703.61" width="32.04" height="31.91" fill="#fbf2ef"/>
<rect x="192.62" y="703.61" width="32.04" height="31.91" fill="#e5edf7"/>
<rect x="224.36" y="703.61" width="32.04" height="31.91" fill="#fefdfd"/>
<rect x="256.10" y="703.61" width="32.04" height="31.91" fill="#ffffff"/>
<rect x="287.84" y="703.61" width="32.04" height="31.91" fill="#fcfdfe"/>
<rect x="319.58" y="703.61" width="32.04" height="31.91" fill="#fcfdfe"/>
<rect x="351.32" y="703.61" width="32.04" height="31.91" fill="#fafbfd"/>
<rect x="383.06" y="703.61" width="32.04" height="31.91" fill="#fefdfd"/>
<rect x="414.80" y="703.61" width="32.04" height="31.91" fill="#f7fafd"/>
<rect x="446.54" y="703.61" width="32.04" height="31.91" fill="#f7fafd"/>
<rect x="478.28" y="703.61" width="32.04" height="31.91" fill="#f7fafd"/>
<rect x="160.88" y="735.22" width="32.04" height="31.91" fill="#ffffff"/>
<rect x="192.62" y="735.22" width="32.04" height="31.91" fill="#fefdfd"/>
<rect x="224.36" y="735.22" width="32.04" height="31.91" fill="#fbf2ef"/>
<rect x="256.10" y="735.22" width="32.04" height="31.91" fill="#fefdfd"/>
<rect x="287.84" y="735.22" width="32.04" height="31.91" fill="#fefbfa"/>
<rect x="319.58" y="735.22" width="32.04" height="31.91" fill="#f7fafd"/>
<rect x="351.32" y="735.22" width="32.04" height="31.91" fill="#90b2de"/>
<rect x="383.06" y="735.22" width="32.04" height="31.91" fill="#fefdfd"/>
<rect x="414.80" y="735.22" width="32.04" height="31.91" fill="#a2bfe4"/>
<rect x="446.54" y="735.22" width="32.04" height="31.91" fill="#9abae1"/>
<rect x="478.28" y="735.22" width="32.04" height="31.91" fill="#f0f4fa"/>
<rect x="192.62" y="766.83" width="32.04" height="31.91" fill="#a2bfe4"/>
<rect x="224.36" y="766.83" width="32.04" height="31.91" fill="#fcfdfe"/>
<rect x="256.10" y="766.83" width="32.04" height="31.91" fill="#fcfdfe"/>
<rect x="287.84" y="766.83" width="32.04" height="31.91" fill="#f7fafd"/>
<rect x="319.58" y="766.83" width="32.04" height="31.91" fill="#ffffff"/>
<rect x="351.32" y="766.83" width="32.04" height="31.91" fill="#fefbfa"/>
<rect x="383.06" y="766.83" width="32.04" height="31.91" fill="#fefdfd"/>
<rect x="414.80" y="766.83" width="32.04" height="31.91" fill="#fdf9f8"/>
<rect x="446.54" y="766.83" width="32.04" height="31.91" fill="#fefdfd"/>
<rect x="478.28" y="766.83" width="32.04" height="31.91" fill="#fefdfd"/>
<rect x="224.36" y="798.44" width="32.04" height="31.91" fill="#f7fafd"/>
<rect x="256.10" y="798.44" width="32.04" height="31.91" fill="#fafbfd"/>
<rect x="287.84" y="798.44" width="32.04" height="31.91" fill="#fefbfa"/>
<rect x="319.58" y="798.44" width="32.04" height="31.91" fill="#fefdfd"/>
<rect x="351.32" y="798.44" width="32.04" height="31.91" fill="#ffffff"/>
<rect x="383.06" y="798.44" width="32.04" height="31.91" fill="#fefbfa"/>
<rect x="414.80" y="798.44" width="32.04" height="31.91" fill="#fcfdfe"/>
<rect x="446.54" y="798.44" width="32.04" height="31.91" fill="#ffffff"/>
<rect x="478.28" y="798.44" width="32.04" height="31.91" fill="#fcfdfe"/>
<rect x="256.10" y="830.05" width="32.04" height="31.91" fill="#fefbfa"/>
<rect x="287.84" y="830.05" width="32.04" height="31.91" fill="#fefbfa"/>
<rect x="319.58" y="830.05" width="32.04" height="31.91" fill="#fcfdfe"/>
<rect x="351.32" y="830.05" width="32.04" height="31.91" fill="#f7e2dd"/>
<rect x="383.06" y="830.05" width="32.04" height="31.91" fill="#9dbbe2"/>
<rect x="414.80" y="830.05" width="32.04" height="31.91" fill="#fbf0ed"/>
<rect x="446.54" y="830.05" width="32.04" height="31.91" fill="#f9eae6"/>
<rect x="478.28" y="830.05" width="32.04" height="31.91" fill="#fbf0ed"/>
<rect x="287.84" y="861.66" width="32.04" height="31.91" fill="#f0f4fa"/>
<rect x="319.58" y="861.66" width="32.04" height="31.91" fill="#cb7a6d"/>
<rect x="351.32" y="861.66" width="32.04" height="31.91" fill="#fdf7f6"/>
<rect x="383.06" y="861.66" width="32.04" height="31.91" fill="#fefdfd"/>
<rect x="414.80" y="861.66" width="32.04" height="31.91" fill="#ffffff"/>
<rect x="446.54" y="861.66" width="32.04" height="31.91" fill="#fefdfd"/>
<rect x="478.28" y="861.66" width="32.04" height="31.91" fill="#fdf9f8"/>
<rect x="319.58" y="893.27" width="32.04" height="31.91" fill="#fdf9f8"/>
<rect x="351.32" y="893.27" width="32.04" height="31.91" fill="#ffffff"/>
<rect x="383.06" y="893.27" width="32.04" height="31.91" fill="#fefdfd"/>
<rect x="414.80" y="893.27" width="32.04" height="31.91" fill="#fdf9f8"/>
<rect x="446.54" y="893.27" width="32.04" height="31.91" fill="#fcfdfe"/>
<rect x="478.28" y="893.27" width="32.04" height="31.91" fill="#ffffff"/>
<rect x="351.32" y="924.88" width="32.04" height="31.91" fill="#eaf1f9"/>
<rect x="383.06" y="924.88" width="32.04" height="31.91" fill="#fdf9f8"/>
<rect x="414.80" y="924.88" width="32.04" height="31.91" fill="#f5f8fc"/>
<rect x="446.54" y="924.88" width="32.04" height="31.91" fill="#f2f6fb"/>
<rect x="478.28" y="924.88" width="32.04" height="31.91" fill="#f0f4fa"/>
<rect x="383.06" y="956.49" width="32.04" height="31.91" fill="#fbf0ed"/>
<rect x="414.80" y="956.49" width="32.04" height="31.91" fill="#86abdb"/>
<rect x="446.54" y="956.49" width="32.04" height="31.91" fill="#7097cb"/>
<rect x="478.28" y="956.49" width="32.04" height="31.91" fill="#c1d4ed"/>
<rect x="414.80" y="988.10" width="32.04" height="31.91" fill="#fdf9f8"/>
<rect x="446.54" y="988.10" width="32.04" height="31.91" fill="#fdf7f6"/>
<rect x="478.28" y="988.10" width="32.04" height="31.91" fill="#fdf9f8"/>
<rect x="446.54" y="1019.71" width="32.04" height="31.91" fill="#759dd0"/>
<rect x="478.28" y="1019.71" width="32.04" height="31.91" fill="#cbdbf0"/>
<rect x="478.28" y="1051.32" width="32.04" height="31.91" fill="#a0bde3"/>
<g class="num">
<text transform="translate(113.27 692.20) scale(0.952 1)">0.0<tspan class="o">1</tspan></text>
<text transform="translate(145.01 692.20) scale(0.952 1)">0.04</text>
<text transform="translate(176.75 692.20) scale(0.952 1)">0.0<tspan class="o">1</tspan></text>
<text transform="translate(208.49 692.20) scale(0.952 1)">0.0<tspan class="o">1</tspan></text>
<text transform="translate(240.23 692.20) scale(0.952 1)">0.02</text>
<text transform="translate(271.97 692.20) scale(0.952 1)">0.<tspan class="o">1</tspan>2</text>
<text transform="translate(303.71 692.20) scale(0.952 1)">−0.02</text>
<text transform="translate(335.45 692.20) scale(0.952 1)">−0.<tspan class="o">1</tspan>4</text>
<text transform="translate(367.19 692.20) scale(0.952 1)">0.02</text>
<text transform="translate(398.93 692.20) scale(0.952 1)">0.0<tspan class="o">1</tspan></text>
<text transform="translate(430.67 692.20) scale(0.952 1)">−0.02</text>
<text transform="translate(462.41 692.20) scale(0.952 1)">0.07</text>
<text transform="translate(494.15 692.20) scale(0.952 1)">0.07</text>
<text transform="translate(145.01 723.81) scale(0.952 1)">−0.0<tspan class="o">1</tspan></text>
<text transform="translate(176.75 723.81) scale(0.952 1)">−0.07</text>
<text transform="translate(208.49 723.81) scale(0.952 1)">0.<tspan class="o">1</tspan></text>
<text transform="translate(240.23 723.81) scale(0.952 1)">−0.0<tspan class="o">1</tspan></text>
<text transform="translate(271.97 723.81) scale(0.952 1)">0</text>
<text transform="translate(303.71 723.81) scale(0.952 1)">0.0<tspan class="o">1</tspan></text>
<text transform="translate(335.45 723.81) scale(0.952 1)">0.0<tspan class="o">1</tspan></text>
<text transform="translate(367.19 723.81) scale(0.952 1)">0.02</text>
<text transform="translate(398.93 723.81) scale(0.952 1)">−0.0<tspan class="o">1</tspan></text>
<text transform="translate(430.67 723.81) scale(0.952 1)">0.03</text>
<text transform="translate(462.41 723.81) scale(0.952 1)">0.03</text>
<text transform="translate(494.15 723.81) scale(0.952 1)">0.03</text>
<text transform="translate(176.75 755.42) scale(0.952 1)">0</text>
<text transform="translate(208.49 755.42) scale(0.952 1)">−0.0<tspan class="o">1</tspan></text>
<text transform="translate(240.23 755.42) scale(0.952 1)">−0.07</text>
<text transform="translate(271.97 755.42) scale(0.952 1)">−0.0<tspan class="o">1</tspan></text>
<text transform="translate(303.71 755.42) scale(0.952 1)">−0.02</text>
<text transform="translate(335.45 755.42) scale(0.952 1)">0.03</text>
<text transform="translate(367.19 755.42) scale(0.952 1)">0.43</text>
<text transform="translate(398.93 755.42) scale(0.952 1)">−0.0<tspan class="o">1</tspan></text>
<text transform="translate(430.67 755.42) scale(0.952 1)">0.36</text>
<text transform="translate(462.41 755.42) scale(0.952 1)">0.39</text>
<text transform="translate(494.15 755.42) scale(0.952 1)">0.06</text>
<text transform="translate(208.49 787.03) scale(0.952 1)">0.36</text>
<text transform="translate(240.23 787.03) scale(0.952 1)">0.0<tspan class="o">1</tspan></text>
<text transform="translate(271.97 787.03) scale(0.952 1)">0.0<tspan class="o">1</tspan></text>
<text transform="translate(303.71 787.03) scale(0.952 1)">0.03</text>
<text transform="translate(335.45 787.03) scale(0.952 1)">0</text>
<text transform="translate(367.19 787.03) scale(0.952 1)">−0.02</text>
<text transform="translate(398.93 787.03) scale(0.952 1)">−0.0<tspan class="o">1</tspan></text>
<text transform="translate(430.67 787.03) scale(0.952 1)">−0.03</text>
<text transform="translate(462.41 787.03) scale(0.952 1)">−0.0<tspan class="o">1</tspan></text>
<text transform="translate(494.15 787.03) scale(0.952 1)">−0.0<tspan class="o">1</tspan></text>
<text transform="translate(240.23 818.64) scale(0.952 1)">0.03</text>
<text transform="translate(271.97 818.64) scale(0.952 1)">0.02</text>
<text transform="translate(303.71 818.64) scale(0.952 1)">−0.02</text>
<text transform="translate(335.45 818.64) scale(0.952 1)">−0.0<tspan class="o">1</tspan></text>
<text transform="translate(367.19 818.64) scale(0.952 1)">0</text>
<text transform="translate(398.93 818.64) scale(0.952 1)">−0.02</text>
<text transform="translate(430.67 818.64) scale(0.952 1)">0.0<tspan class="o">1</tspan></text>
<text transform="translate(462.41 818.64) scale(0.952 1)">0</text>
<text transform="translate(494.15 818.64) scale(0.952 1)">0.0<tspan class="o">1</tspan></text>
<text transform="translate(271.97 850.25) scale(0.952 1)">−0.02</text>
<text transform="translate(303.71 850.25) scale(0.952 1)">−0.02</text>
<text transform="translate(335.45 850.25) scale(0.952 1)">0.0<tspan class="o">1</tspan></text>
<text transform="translate(367.19 850.25) scale(0.952 1)">−0.<tspan class="o">1</tspan>5</text>
<text transform="translate(398.93 850.25) scale(0.952 1)">0.38</text>
<text transform="translate(430.67 850.25) scale(0.952 1)">−0.08</text>
<text transform="translate(462.41 850.25) scale(0.952 1)">−0.<tspan class="o">11</tspan></text>
<text transform="translate(494.15 850.25) scale(0.952 1)">−0.08</text>
<text transform="translate(303.71 881.87) scale(0.952 1)">0.06</text>
<text transform="translate(335.45 881.87) scale(0.952 1)">−0.73</text>
<text transform="translate(367.19 881.87) scale(0.952 1)">−0.04</text>
<text transform="translate(398.93 881.87) scale(0.952 1)">−0.0<tspan class="o">1</tspan></text>
<text transform="translate(430.67 881.87) scale(0.952 1)">0</text>
<text transform="translate(462.41 881.87) scale(0.952 1)">−0.0<tspan class="o">1</tspan></text>
<text transform="translate(494.15 881.87) scale(0.952 1)">−0.03</text>
<text transform="translate(335.45 913.48) scale(0.952 1)">−0.03</text>
<text transform="translate(367.19 913.48) scale(0.952 1)">0</text>
<text transform="translate(398.93 913.48) scale(0.952 1)">−0.0<tspan class="o">1</tspan></text>
<text transform="translate(430.67 913.48) scale(0.952 1)">−0.03</text>
<text transform="translate(462.41 913.48) scale(0.952 1)">0.0<tspan class="o">1</tspan></text>
<text transform="translate(494.15 913.48) scale(0.952 1)">0</text>
<text transform="translate(367.19 945.08) scale(0.952 1)">0.08</text>
<text transform="translate(398.93 945.08) scale(0.952 1)">−0.03</text>
<text transform="translate(430.67 945.08) scale(0.952 1)">0.04</text>
<text transform="translate(462.41 945.08) scale(0.952 1)">0.05</text>
<text transform="translate(494.15 945.08) scale(0.952 1)">0.06</text>
<text transform="translate(398.93 976.70) scale(0.952 1)">−0.08</text>
<text transform="translate(430.67 976.70) scale(0.952 1)">0.47</text>
<text transform="translate(462.41 976.70) scale(0.952 1)">0.66</text>
<text transform="translate(494.15 976.70) scale(0.952 1)">0.24</text>
<text transform="translate(430.67 1008.30) scale(0.952 1)">−0.03</text>
<text transform="translate(462.41 1008.30) scale(0.952 1)">−0.04</text>
<text transform="translate(494.15 1008.30) scale(0.952 1)">−0.03</text>
<text transform="translate(462.41 1039.91) scale(0.952 1)">0.6</text>
<text transform="translate(494.15 1039.91) scale(0.952 1)">0.2</text>
<text transform="translate(494.15 1071.53) scale(0.952 1)">0.37</text>
</g>
<g class="rl">
<text x="88.30" y="692.20">SDReturns</text>
<text x="120.04" y="723.81">Addresses</text>
<text x="151.78" y="755.42">Fees</text>
<text x="183.52" y="787.03">Hashrate</text>
<text x="215.26" y="818.64">Inflation</text>
<text x="247.00" y="850.25">Velocity</text>
<text x="278.74" y="881.87">SP500</text>
<text x="310.48" y="913.48">USDEUR</text>
<text x="342.22" y="945.08">VIX</text>
<text x="373.96" y="976.70">Volume</text>
<text x="405.70" y="1008.30">ExchangeRatio</text>
<text x="437.44" y="1039.91">GoogleMarket</text>
<text x="469.18" y="1071.53">GoogleCurrency</text>
</g>
<g class="tl">
<text transform="translate(119.27 670.80) rotate(-45)">Addresses</text>
<text transform="translate(150.83 670.72) rotate(-45)">Fees</text>
<text transform="translate(182.39 670.64) rotate(-45)">Hashrate</text>
<text transform="translate(213.95 670.56) rotate(-45)">Inflation</text>
<text transform="translate(245.51 670.48) rotate(-45)">Velocity</text>
<text transform="translate(277.07 670.40) rotate(-45)">SP500</text>
<text transform="translate(308.63 670.32) rotate(-45)">USDEUR</text>
<text transform="translate(340.19 670.24) rotate(-45)">VIX</text>
<text transform="translate(371.75 670.16) rotate(-45)">Volume</text>
<text transform="translate(403.31 670.08) rotate(-45)">ExchangeRatio</text>
<text transform="translate(434.87 670.00) rotate(-45)">GoogleMarket</text>
<text transform="translate(466.43 669.92) rotate(-45)">GoogleCurrency</text>
<text transform="translate(497.99 669.84) rotate(-45)">Wiki</text>
</g>
<rect x="517.66" y="672.40" width="15" height="409.67" fill="url(#g)" stroke="#111" stroke-width="1.5" shape-rendering="geometricPrecision"/>
<g class="cb">
<line x1="532.66" x2="536.46" y1="672.40" y2="672.40" stroke="#111" stroke-width="1.4" shape-rendering="geometricPrecision"/>
<text x="551.06" y="678.70"><tspan class="o">1</tspan></text>
<line x1="532.66" x2="536.46" y1="713.37" y2="713.37" stroke="#111" stroke-width="1.4" shape-rendering="geometricPrecision"/>
<text x="551.06" y="719.67">0.8</text>
<line x1="532.66" x2="536.46" y1="754.33" y2="754.33" stroke="#111" stroke-width="1.4" shape-rendering="geometricPrecision"/>
<text x="551.06" y="760.63">0.6</text>
<line x1="532.66" x2="536.46" y1="795.30" y2="795.30" stroke="#111" stroke-width="1.4" shape-rendering="geometricPrecision"/>
<text x="551.06" y="801.60">0.4</text>
<line x1="532.66" x2="536.46" y1="836.27" y2="836.27" stroke="#111" stroke-width="1.4" shape-rendering="geometricPrecision"/>
<text x="551.06" y="842.57">0.2</text>
<line x1="532.66" x2="536.46" y1="877.23" y2="877.23" stroke="#111" stroke-width="1.4" shape-rendering="geometricPrecision"/>
<text x="551.06" y="883.53">0</text>
<line x1="532.66" x2="536.46" y1="918.20" y2="918.20" stroke="#111" stroke-width="1.4" shape-rendering="geometricPrecision"/>
<text x="551.06" y="924.50">−0.2</text>
<line x1="532.66" x2="536.46" y1="959.17" y2="959.17" stroke="#111" stroke-width="1.4" shape-rendering="geometricPrecision"/>
<text x="551.06" y="965.47">−0.4</text>
<line x1="532.66" x2="536.46" y1="1000.14" y2="1000.14" stroke="#111" stroke-width="1.4" shape-rendering="geometricPrecision"/>
<text x="551.06" y="1006.44">−0.6</text>
<line x1="532.66" x2="536.46" y1="1041.10" y2="1041.10" stroke="#111" stroke-width="1.4" shape-rendering="geometricPrecision"/>
<text x="551.06" y="1047.40">−0.8</text>
<line x1="532.66" x2="536.46" y1="1082.07" y2="1082.07" stroke="#111" stroke-width="1.4" shape-rendering="geometricPrecision"/>
<text x="551.06" y="1088.37">−<tspan class="o">1</tspan></text>
</g>
<text class="ttl" x="68.5" y="1046.5">c) ETH</text>
</g>
<g class="panel" id="xrp">
<rect x="730.70" y="671.30" width="37.77" height="37.78" fill="#fafbfd"/>
<rect x="768.17" y="671.30" width="37.77" height="37.78" fill="#fcfdfe"/>
<rect x="805.64" y="671.30" width="37.77" height="37.78" fill="#fafbfd"/>
<rect x="843.11" y="671.30" width="37.77" height="37.78" fill="#e0eaf6"/>
<rect x="880.58" y="671.30" width="37.77" height="37.78" fill="#fafbfd"/>
<rect x="918.05" y="671.30" width="37.77" height="37.78" fill="#f8e6e1"/>
<rect x="955.52" y="671.30" width="37.77" height="37.78" fill="#e5edf7"/>
<rect x="992.99" y="671.30" width="37.77" height="37.78" fill="#ffffff"/>
<rect x="1030.46" y="671.30" width="37.77" height="37.78" fill="#fdf9f8"/>
<rect x="1067.93" y="671.30" width="37.77" height="37.78" fill="#dde8f5"/>
<rect x="1105.40" y="671.30" width="37.77" height="37.78" fill="#edf3fa"/>
<rect x="768.17" y="708.78" width="37.77" height="37.78" fill="#fcfdfe"/>
<rect x="805.64" y="708.78" width="37.77" height="37.78" fill="#fdf9f8"/>
<rect x="843.11" y="708.78" width="37.77" height="37.78" fill="#fefbfa"/>
<rect x="880.58" y="708.78" width="37.77" height="37.78" fill="#fefdfd"/>
<rect x="918.05" y="708.78" width="37.77" height="37.78" fill="#f7fafd"/>
<rect x="955.52" y="708.78" width="37.77" height="37.78" fill="#d1dff1"/>
<rect x="992.99" y="708.78" width="37.77" height="37.78" fill="#fcf3f1"/>
<rect x="1030.46" y="708.78" width="37.77" height="37.78" fill="#e0eaf6"/>
<rect x="1067.93" y="708.78" width="37.77" height="37.78" fill="#c9daef"/>
<rect x="1105.40" y="708.78" width="37.77" height="37.78" fill="#d6e3f3"/>
<rect x="805.64" y="746.26" width="37.77" height="37.78" fill="#fefbfa"/>
<rect x="843.11" y="746.26" width="37.77" height="37.78" fill="#fcfdfe"/>
<rect x="880.58" y="746.26" width="37.77" height="37.78" fill="#fafbfd"/>
<rect x="918.05" y="746.26" width="37.77" height="37.78" fill="#fefbfa"/>
<rect x="955.52" y="746.26" width="37.77" height="37.78" fill="#fcfdfe"/>
<rect x="992.99" y="746.26" width="37.77" height="37.78" fill="#ffffff"/>
<rect x="1030.46" y="746.26" width="37.77" height="37.78" fill="#fafbfd"/>
<rect x="1067.93" y="746.26" width="37.77" height="37.78" fill="#fafbfd"/>
<rect x="1105.40" y="746.26" width="37.77" height="37.78" fill="#f7fafd"/>
<rect x="843.11" y="783.74" width="37.77" height="37.78" fill="#fefbfa"/>
<rect x="880.58" y="783.74" width="37.77" height="37.78" fill="#fdf9f8"/>
<rect x="918.05" y="783.74" width="37.77" height="37.78" fill="#fefdfd"/>
<rect x="955.52" y="783.74" width="37.77" height="37.78" fill="#fdf7f6"/>
<rect x="992.99" y="783.74" width="37.77" height="37.78" fill="#b4cbe9"/>
<rect x="1030.46" y="783.74" width="37.77" height="37.78" fill="#fbf2ef"/>
<rect x="1067.93" y="783.74" width="37.77" height="37.78" fill="#fbf2ef"/>
<rect x="1105.40" y="783.74" width="37.77" height="37.78" fill="#fcf3f1"/>
<rect x="880.58" y="821.22" width="37.77" height="37.78" fill="#f0f4fa"/>
<rect x="918.05" y="821.22" width="37.77" height="37.78" fill="#cb7a6d"/>
<rect x="955.52" y="821.22" width="37.77" height="37.78" fill="#fefdfd"/>
<rect x="992.99" y="821.22" width="37.77" height="37.78" fill="#fefdfd"/>
<rect x="1030.46" y="821.22" width="37.77" height="37.78" fill="#ffffff"/>
<rect x="1067.93" y="821.22" width="37.77" height="37.78" fill="#ffffff"/>
<rect x="1105.40" y="821.22" width="37.77" height="37.78" fill="#ffffff"/>
<rect x="918.05" y="858.70" width="37.77" height="37.78" fill="#fdf9f8"/>
<rect x="955.52" y="858.70" width="37.77" height="37.78" fill="#fcfdfe"/>
<rect x="992.99" y="858.70" width="37.77" height="37.78" fill="#fcf5f4"/>
<rect x="1030.46" y="858.70" width="37.77" height="37.78" fill="#fdf9f8"/>
<rect x="1067.93" y="858.70" width="37.77" height="37.78" fill="#fefdfd"/>
<rect x="1105.40" y="858.70" width="37.77" height="37.78" fill="#fefbfa"/>
<rect x="955.52" y="896.18" width="37.77" height="37.78" fill="#f2f6fb"/>
<rect x="992.99" y="896.18" width="37.77" height="37.78" fill="#fcf5f4"/>
<rect x="1030.46" y="896.18" width="37.77" height="37.78" fill="#f5f8fc"/>
<rect x="1067.93" y="896.18" width="37.77" height="37.78" fill="#fafbfd"/>
<rect x="1105.40" y="896.18" width="37.77" height="37.78" fill="#fcfdfe"/>
<rect x="992.99" y="933.66" width="37.77" height="37.78" fill="#f5f8fc"/>
<rect x="1030.46" y="933.66" width="37.77" height="37.78" fill="#acc6e7"/>
<rect x="1067.93" y="933.66" width="37.77" height="37.78" fill="#749ccf"/>
<rect x="1105.40" y="933.66" width="37.77" height="37.78" fill="#acc6e7"/>
<rect x="1030.46" y="971.14" width="37.77" height="37.78" fill="#fefbfa"/>
<rect x="1067.93" y="971.14" width="37.77" height="37.78" fill="#fcfdfe"/>
<rect x="1105.40" y="971.14" width="37.77" height="37.78" fill="#fefdfd"/>
<rect x="1067.93" y="1008.62" width="37.77" height="37.78" fill="#acc6e7"/>
<rect x="1105.40" y="1008.62" width="37.77" height="37.78" fill="#c6d8ee"/>
<rect x="1105.40" y="1046.10" width="37.77" height="37.78" fill="#688fc3"/>
<g class="num">
<text transform="translate(749.44 694.74) scale(0.952 1)">0.02</text>
<text transform="translate(786.91 694.74) scale(0.952 1)">0.0<tspan class="o">1</tspan></text>
<text transform="translate(824.38 694.74) scale(0.952 1)">0.02</text>
<text transform="translate(861.85 694.74) scale(0.952 1)">0.<tspan class="o">1</tspan>2</text>
<text transform="translate(899.32 694.74) scale(0.952 1)">0.02</text>
<text transform="translate(936.79 694.74) scale(0.952 1)">−0.<tspan class="o">1</tspan>3</text>
<text transform="translate(974.26 694.74) scale(0.952 1)">0.<tspan class="o">1</tspan></text>
<text transform="translate(1011.73 694.74) scale(0.952 1)">0</text>
<text transform="translate(1049.20 694.74) scale(0.952 1)">−0.03</text>
<text transform="translate(1086.66 694.74) scale(0.952 1)">0.<tspan class="o">1</tspan>3</text>
<text transform="translate(1124.13 694.74) scale(0.952 1)">0.07</text>
<text transform="translate(786.91 732.22) scale(0.952 1)">0.0<tspan class="o">1</tspan></text>
<text transform="translate(824.38 732.22) scale(0.952 1)">−0.03</text>
<text transform="translate(861.85 732.22) scale(0.952 1)">−0.02</text>
<text transform="translate(899.32 732.22) scale(0.952 1)">−0.0<tspan class="o">1</tspan></text>
<text transform="translate(936.79 732.22) scale(0.952 1)">0.03</text>
<text transform="translate(974.26 732.22) scale(0.952 1)">0.<tspan class="o">1</tspan>8</text>
<text transform="translate(1011.73 732.22) scale(0.952 1)">−0.06</text>
<text transform="translate(1049.20 732.22) scale(0.952 1)">0.<tspan class="o">1</tspan>2</text>
<text transform="translate(1086.66 732.22) scale(0.952 1)">0.2<tspan class="o">1</tspan></text>
<text transform="translate(1124.13 732.22) scale(0.952 1)">0.<tspan class="o">1</tspan>6</text>
<text transform="translate(824.38 769.70) scale(0.952 1)">−0.02</text>
<text transform="translate(861.85 769.70) scale(0.952 1)">0.0<tspan class="o">1</tspan></text>
<text transform="translate(899.32 769.70) scale(0.952 1)">0.02</text>
<text transform="translate(936.79 769.70) scale(0.952 1)">−0.02</text>
<text transform="translate(974.26 769.70) scale(0.952 1)">0.0<tspan class="o">1</tspan></text>
<text transform="translate(1011.73 769.70) scale(0.952 1)">0</text>
<text transform="translate(1049.20 769.70) scale(0.952 1)">0.02</text>
<text transform="translate(1086.66 769.70) scale(0.952 1)">0.02</text>
<text transform="translate(1124.13 769.70) scale(0.952 1)">0.03</text>
<text transform="translate(861.85 807.18) scale(0.952 1)">−0.02</text>
<text transform="translate(899.32 807.18) scale(0.952 1)">−0.03</text>
<text transform="translate(936.79 807.18) scale(0.952 1)">−0.0<tspan class="o">1</tspan></text>
<text transform="translate(974.26 807.18) scale(0.952 1)">−0.04</text>
<text transform="translate(1011.73 807.18) scale(0.952 1)">0.29</text>
<text transform="translate(1049.20 807.18) scale(0.952 1)">−0.07</text>
<text transform="translate(1086.66 807.18) scale(0.952 1)">−0.07</text>
<text transform="translate(1124.13 807.18) scale(0.952 1)">−0.06</text>
<text transform="translate(899.32 844.66) scale(0.952 1)">0.06</text>
<text transform="translate(936.79 844.66) scale(0.952 1)">−0.73</text>
<text transform="translate(974.26 844.66) scale(0.952 1)">−0.0<tspan class="o">1</tspan></text>
<text transform="translate(1011.73 844.66) scale(0.952 1)">−0.0<tspan class="o">1</tspan></text>
<text transform="translate(1049.20 844.66) scale(0.952 1)">0</text>
<text transform="translate(1086.66 844.66) scale(0.952 1)">0</text>
<text transform="translate(1124.13 844.66) scale(0.952 1)">0</text>
<text transform="translate(936.79 882.14) scale(0.952 1)">−0.03</text>
<text transform="translate(974.26 882.14) scale(0.952 1)">0.0<tspan class="o">1</tspan></text>
<text transform="translate(1011.73 882.14) scale(0.952 1)">−0.05</text>
<text transform="translate(1049.20 882.14) scale(0.952 1)">−0.03</text>
<text transform="translate(1086.66 882.14) scale(0.952 1)">−0.0<tspan class="o">1</tspan></text>
<text transform="translate(1124.13 882.14) scale(0.952 1)">−0.02</text>
<text transform="translate(974.26 919.62) scale(0.952 1)">0.05</text>
<text transform="translate(1011.73 919.62) scale(0.952 1)">−0.05</text>
<text transform="translate(1049.20 919.62) scale(0.952 1)">0.04</text>
<text transform="translate(1086.66 919.62) scale(0.952 1)">0.02</text>
<text transform="translate(1124.13 919.62) scale(0.952 1)">0.0<tspan class="o">1</tspan></text>
<text transform="translate(1011.73 957.10) scale(0.952 1)">0.04</text>
<text transform="translate(1049.20 957.10) scale(0.952 1)">0.32</text>
<text transform="translate(1086.66 957.10) scale(0.952 1)">0.6<tspan class="o">1</tspan></text>
<text transform="translate(1124.13 957.10) scale(0.952 1)">0.32</text>
<text transform="translate(1049.20 994.58) scale(0.952 1)">−0.02</text>
<text transform="translate(1086.66 994.58) scale(0.952 1)">0.0<tspan class="o">1</tspan></text>
<text transform="translate(1124.13 994.58) scale(0.952 1)">−0.0<tspan class="o">1</tspan></text>
<text transform="translate(1086.66 1032.06) scale(0.952 1)">0.32</text>
<text transform="translate(1124.13 1032.06) scale(0.952 1)">0.22</text>
<text transform="translate(1124.13 1069.54) scale(0.952 1)">0.75</text>
</g>
<g class="rl">
<text x="721.70" y="694.44">SDReturns</text>
<text x="759.17" y="731.92">Addresses</text>
<text x="796.64" y="769.40">Fees</text>
<text x="834.11" y="806.88">Velocity</text>
<text x="871.58" y="844.36">SP500</text>
<text x="909.05" y="881.84">USDEUR</text>
<text x="946.52" y="919.32">VIX</text>
<text x="983.99" y="956.80">Volume</text>
<text x="1021.46" y="994.28">ExchangeRatio</text>
<text x="1058.93" y="1031.76">GoogleMarket</text>
<text x="1096.40" y="1069.24">GoogleCurrency</text>
</g>
<g class="tl">
<text transform="translate(753.84 669.40) rotate(-45)">Addresses</text>
<text transform="translate(791.22 669.38) rotate(-45)">Fees</text>
<text transform="translate(828.60 669.36) rotate(-45)">Velocity</text>
<text transform="translate(865.98 669.34) rotate(-45)">SP500</text>
<text transform="translate(903.36 669.32) rotate(-45)">USDEUR</text>
<text transform="translate(940.74 669.30) rotate(-45)">VIX</text>
<text transform="translate(978.12 669.28) rotate(-45)">Volume</text>
<text transform="translate(1015.50 669.26) rotate(-45)">ExchangeRatio</text>
<text transform="translate(1052.88 669.24) rotate(-45)">GoogleMarket</text>
<text transform="translate(1090.26 669.22) rotate(-45)">GoogleCurrency</text>
<text transform="translate(1127.63 669.20) rotate(-45)">Wiki</text>
</g>
<rect x="1150.51" y="671.70" width="15" height="411.02" fill="url(#g)" stroke="#111" stroke-width="1.5" shape-rendering="geometricPrecision"/>
<g class="cb">
<line x1="1165.51" x2="1169.31" y1="671.70" y2="671.70" stroke="#111" stroke-width="1.4" shape-rendering="geometricPrecision"/>
<text x="1183.91" y="678.00"><tspan class="o">1</tspan></text>
<line x1="1165.51" x2="1169.31" y1="712.80" y2="712.80" stroke="#111" stroke-width="1.4" shape-rendering="geometricPrecision"/>
<text x="1183.91" y="719.10">0.8</text>
<line x1="1165.51" x2="1169.31" y1="753.90" y2="753.90" stroke="#111" stroke-width="1.4" shape-rendering="geometricPrecision"/>
<text x="1183.91" y="760.20">0.6</text>
<line x1="1165.51" x2="1169.31" y1="795.01" y2="795.01" stroke="#111" stroke-width="1.4" shape-rendering="geometricPrecision"/>
<text x="1183.91" y="801.31">0.4</text>
<line x1="1165.51" x2="1169.31" y1="836.11" y2="836.11" stroke="#111" stroke-width="1.4" shape-rendering="geometricPrecision"/>
<text x="1183.91" y="842.41">0.2</text>
<line x1="1165.51" x2="1169.31" y1="877.21" y2="877.21" stroke="#111" stroke-width="1.4" shape-rendering="geometricPrecision"/>
<text x="1183.91" y="883.51">0</text>
<line x1="1165.51" x2="1169.31" y1="918.31" y2="918.31" stroke="#111" stroke-width="1.4" shape-rendering="geometricPrecision"/>
<text x="1183.91" y="924.61">−0.2</text>
<line x1="1165.51" x2="1169.31" y1="959.41" y2="959.41" stroke="#111" stroke-width="1.4" shape-rendering="geometricPrecision"/>
<text x="1183.91" y="965.71">−0.4</text>
<line x1="1165.51" x2="1169.31" y1="1000.52" y2="1000.52" stroke="#111" stroke-width="1.4" shape-rendering="geometricPrecision"/>
<text x="1183.91" y="1006.82">−0.6</text>
<line x1="1165.51" x2="1169.31" y1="1041.62" y2="1041.62" stroke="#111" stroke-width="1.4" shape-rendering="geometricPrecision"/>
<text x="1183.91" y="1047.92">−0.8</text>
<line x1="1165.51" x2="1169.31" y1="1082.72" y2="1082.72" stroke="#111" stroke-width="1.4" shape-rendering="geometricPrecision"/>
<text x="1183.91" y="1089.02">−<tspan class="o">1</tspan></text>
</g>
<text class="ttl" x="701" y="1043.2">d) XRP</text>
</g>
<g class="panel" id="doge">
<rect x="427.85" y="1249.20" width="31.96" height="32.03" fill="#edf3fa"/>
<rect x="459.51" y="1249.20" width="31.96" height="32.03" fill="#e0eaf6"/>
<rect x="491.17" y="1249.20" width="31.96" height="32.03" fill="#fcfdfe"/>
<rect x="522.83" y="1249.20" width="31.96" height="32.03" fill="#fefdfd"/>
<rect x="554.49" y="1249.20" width="31.96" height="32.03" fill="#ffffff"/>
<rect x="586.15" y="1249.20" width="31.96" height="32.03" fill="#e5edf7"/>
<rect x="617.81" y="1249.20" width="31.96" height="32.03" fill="#f7fafd"/>
<rect x="649.47" y="1249.20" width="31.96" height="32.03" fill="#f7e4df"/>
<rect x="681.13" y="1249.20" width="31.96" height="32.03" fill="#e0eaf6"/>
<rect x="712.79" y="1249.20" width="31.96" height="32.03" fill="#ffffff"/>
<rect x="744.45" y="1249.20" width="31.96" height="32.03" fill="#fdf9f8"/>
<rect x="776.11" y="1249.20" width="31.96" height="32.03" fill="#e5edf7"/>
<rect x="807.77" y="1249.20" width="31.96" height="32.03" fill="#eaf1f9"/>
<rect x="459.51" y="1280.93" width="31.96" height="32.03" fill="#b9cfea"/>
<rect x="491.17" y="1280.93" width="31.96" height="32.03" fill="#fbf0ed"/>
<rect x="522.83" y="1280.93" width="31.96" height="32.03" fill="#fdf7f6"/>
<rect x="554.49" y="1280.93" width="31.96" height="32.03" fill="#f8e8e4"/>
<rect x="586.15" y="1280.93" width="31.96" height="32.03" fill="#ffffff"/>
<rect x="617.81" y="1280.93" width="31.96" height="32.03" fill="#ffffff"/>
<rect x="649.47" y="1280.93" width="31.96" height="32.03" fill="#fefdfd"/>
<rect x="681.13" y="1280.93" width="31.96" height="32.03" fill="#b2cae8"/>
<rect x="712.79" y="1280.93" width="31.96" height="32.03" fill="#f9ece8"/>
<rect x="744.45" y="1280.93" width="31.96" height="32.03" fill="#e5edf7"/>
<rect x="776.11" y="1280.93" width="31.96" height="32.03" fill="#b7cdea"/>
<rect x="807.77" y="1280.93" width="31.96" height="32.03" fill="#acc6e7"/>
<rect x="491.17" y="1312.66" width="31.96" height="32.03" fill="#f7fafd"/>
<rect x="522.83" y="1312.66" width="31.96" height="32.03" fill="#fafbfd"/>
<rect x="554.49" y="1312.66" width="31.96" height="32.03" fill="#fcf3f1"/>
<rect x="586.15" y="1312.66" width="31.96" height="32.03" fill="#f5f8fc"/>
<rect x="617.81" y="1312.66" width="31.96" height="32.03" fill="#ffffff"/>
<rect x="649.47" y="1312.66" width="31.96" height="32.03" fill="#fcf3f1"/>
<rect x="681.13" y="1312.66" width="31.96" height="32.03" fill="#83aadb"/>
<rect x="712.79" y="1312.66" width="31.96" height="32.03" fill="#ffffff"/>
<rect x="744.45" y="1312.66" width="31.96" height="32.03" fill="#fafbfd"/>
<rect x="776.11" y="1312.66" width="31.96" height="32.03" fill="#95b6e0"/>
<rect x="807.77" y="1312.66" width="31.96" height="32.03" fill="#aac4e6"/>
<rect x="522.83" y="1344.39" width="31.96" height="32.03" fill="#f2f6fb"/>
<rect x="554.49" y="1344.39" width="31.96" height="32.03" fill="#f0f4fa"/>
<rect x="586.15" y="1344.39" width="31.96" height="32.03" fill="#fafbfd"/>
<rect x="617.81" y="1344.39" width="31.96" height="32.03" fill="#fefdfd"/>
<rect x="649.47" y="1344.39" width="31.96" height="32.03" fill="#fdf9f8"/>
<rect x="681.13" y="1344.39" width="31.96" height="32.03" fill="#fbf2ef"/>
<rect x="712.79" y="1344.39" width="31.96" height="32.03" fill="#fcfdfe"/>
<rect x="744.45" y="1344.39" width="31.96" height="32.03" fill="#fdf7f6"/>
<rect x="776.11" y="1344.39" width="31.96" height="32.03" fill="#fdf7f6"/>
<rect x="807.77" y="1344.39" width="31.96" height="32.03" fill="#f7e2dd"/>
<rect x="554.49" y="1376.12" width="31.96" height="32.03" fill="#f7fafd"/>
<rect x="586.15" y="1376.12" width="31.96" height="32.03" fill="#ffffff"/>
<rect x="617.81" y="1376.12" width="31.96" height="32.03" fill="#fefbfa"/>
<rect x="649.47" y="1376.12" width="31.96" height="32.03" fill="#fefdfd"/>
<rect x="681.13" y="1376.12" width="31.96" height="32.03" fill="#fefbfa"/>
<rect x="712.79" y="1376.12" width="31.96" height="32.03" fill="#fafbfd"/>
<rect x="744.45" y="1376.12" width="31.96" height="32.03" fill="#fdf9f8"/>
<rect x="776.11" y="1376.12" width="31.96" height="32.03" fill="#fefbfa"/>
<rect x="807.77" y="1376.12" width="31.96" height="32.03" fill="#fcf5f4"/>
<rect x="586.15" y="1407.85" width="31.96" height="32.03" fill="#ffffff"/>
<rect x="617.81" y="1407.85" width="31.96" height="32.03" fill="#fefbfa"/>
<rect x="649.47" y="1407.85" width="31.96" height="32.03" fill="#fefbfa"/>
<rect x="681.13" y="1407.85" width="31.96" height="32.03" fill="#fcf3f1"/>
<rect x="712.79" y="1407.85" width="31.96" height="32.03" fill="#88addc"/>
<rect x="744.45" y="1407.85" width="31.96" height="32.03" fill="#fbf2ef"/>
<rect x="776.11" y="1407.85" width="31.96" height="32.03" fill="#fcf5f4"/>
<rect x="807.77" y="1407.85" width="31.96" height="32.03" fill="#fdf9f8"/>
<rect x="617.81" y="1439.58" width="31.96" height="32.03" fill="#f0f4fa"/>
<rect x="649.47" y="1439.58" width="31.96" height="32.03" fill="#cb7a6d"/>
<rect x="681.13" y="1439.58" width="31.96" height="32.03" fill="#fcfdfe"/>
<rect x="712.79" y="1439.58" width="31.96" height="32.03" fill="#ffffff"/>
<rect x="744.45" y="1439.58" width="31.96" height="32.03" fill="#ffffff"/>
<rect x="776.11" y="1439.58" width="31.96" height="32.03" fill="#fcfdfe"/>
<rect x="807.77" y="1439.58" width="31.96" height="32.03" fill="#fefbfa"/>
<rect x="649.47" y="1471.31" width="31.96" height="32.03" fill="#fdf9f8"/>
<rect x="681.13" y="1471.31" width="31.96" height="32.03" fill="#fefbfa"/>
<rect x="712.79" y="1471.31" width="31.96" height="32.03" fill="#fdf9f8"/>
<rect x="744.45" y="1471.31" width="31.96" height="32.03" fill="#fdf9f8"/>
<rect x="776.11" y="1471.31" width="31.96" height="32.03" fill="#fdf9f8"/>
<rect x="807.77" y="1471.31" width="31.96" height="32.03" fill="#fdf7f6"/>
<rect x="681.13" y="1503.04" width="31.96" height="32.03" fill="#fefbfa"/>
<rect x="712.79" y="1503.04" width="31.96" height="32.03" fill="#fafbfd"/>
<rect x="744.45" y="1503.04" width="31.96" height="32.03" fill="#f5f8fc"/>
<rect x="776.11" y="1503.04" width="31.96" height="32.03" fill="#fefbfa"/>
<rect x="807.77" y="1503.04" width="31.96" height="32.03" fill="#ffffff"/>
<rect x="712.79" y="1534.77" width="31.96" height="32.03" fill="#f7fafd"/>
<rect x="744.45" y="1534.77" width="31.96" height="32.03" fill="#b9cfea"/>
<rect x="776.11" y="1534.77" width="31.96" height="32.03" fill="#6087bb"/>
<rect x="807.77" y="1534.77" width="31.96" height="32.03" fill="#678ec2"/>
<rect x="744.45" y="1566.50" width="31.96" height="32.03" fill="#fafbfd"/>
<rect x="776.11" y="1566.50" width="31.96" height="32.03" fill="#f7fafd"/>
<rect x="807.77" y="1566.50" width="31.96" height="32.03" fill="#fafbfd"/>
<rect x="776.11" y="1598.23" width="31.96" height="32.03" fill="#acc6e7"/>
<rect x="807.77" y="1598.23" width="31.96" height="32.03" fill="#bcd1eb"/>
<rect x="807.77" y="1629.96" width="31.96" height="32.03" fill="#6990c4"/>
<g class="num">
<text transform="translate(443.68 1269.47) scale(0.952 1)">0.07</text>
<text transform="translate(475.34 1269.47) scale(0.952 1)">0.<tspan class="o">1</tspan>2</text>
<text transform="translate(507.00 1269.47) scale(0.952 1)">0.0<tspan class="o">1</tspan></text>
<text transform="translate(538.66 1269.47) scale(0.952 1)">−0.0<tspan class="o">1</tspan></text>
<text transform="translate(570.32 1269.47) scale(0.952 1)">0</text>
<text transform="translate(601.98 1269.47) scale(0.952 1)">0.<tspan class="o">1</tspan></text>
<text transform="translate(633.64 1269.47) scale(0.952 1)">0.03</text>
<text transform="translate(665.30 1269.47) scale(0.952 1)">−0.<tspan class="o">1</tspan>4</text>
<text transform="translate(696.96 1269.47) scale(0.952 1)">0.<tspan class="o">1</tspan>2</text>
<text transform="translate(728.62 1269.47) scale(0.952 1)">0</text>
<text transform="translate(760.28 1269.47) scale(0.952 1)">−0.03</text>
<text transform="translate(791.94 1269.47) scale(0.952 1)">0.<tspan class="o">1</tspan></text>
<text transform="translate(823.60 1269.47) scale(0.952 1)">0.08</text>
<text transform="translate(475.34 1301.20) scale(0.952 1)">0.27</text>
<text transform="translate(507.00 1301.20) scale(0.952 1)">−0.08</text>
<text transform="translate(538.66 1301.20) scale(0.952 1)">−0.04</text>
<text transform="translate(570.32 1301.20) scale(0.952 1)">−0.<tspan class="o">1</tspan>2</text>
<text transform="translate(601.98 1301.20) scale(0.952 1)">0</text>
<text transform="translate(633.64 1301.20) scale(0.952 1)">0</text>
<text transform="translate(665.30 1301.20) scale(0.952 1)">−0.0<tspan class="o">1</tspan></text>
<text transform="translate(696.96 1301.20) scale(0.952 1)">0.3</text>
<text transform="translate(728.62 1301.20) scale(0.952 1)">−0.<tspan class="o">1</tspan></text>
<text transform="translate(760.28 1301.20) scale(0.952 1)">0.<tspan class="o">1</tspan></text>
<text transform="translate(791.94 1301.20) scale(0.952 1)">0.28</text>
<text transform="translate(823.60 1301.20) scale(0.952 1)">0.32</text>
<text transform="translate(507.00 1332.93) scale(0.952 1)">0.03</text>
<text transform="translate(538.66 1332.93) scale(0.952 1)">0.02</text>
<text transform="translate(570.32 1332.93) scale(0.952 1)">−0.06</text>
<text transform="translate(601.98 1332.93) scale(0.952 1)">0.04</text>
<text transform="translate(633.64 1332.93) scale(0.952 1)">0</text>
<text transform="translate(665.30 1332.93) scale(0.952 1)">−0.06</text>
<text transform="translate(696.96 1332.93) scale(0.952 1)">0.48</text>
<text transform="translate(728.62 1332.93) scale(0.952 1)">0</text>
<text transform="translate(760.28 1332.93) scale(0.952 1)">0.02</text>
<text transform="translate(791.94 1332.93) scale(0.952 1)">0.4<tspan class="o">1</tspan></text>
<text transform="translate(823.60 1332.93) scale(0.952 1)">0.33</text>
<text transform="translate(538.66 1364.66) scale(0.952 1)">0.05</text>
<text transform="translate(570.32 1364.66) scale(0.952 1)">0.06</text>
<text transform="translate(601.98 1364.66) scale(0.952 1)">0.02</text>
<text transform="translate(633.64 1364.66) scale(0.952 1)">−0.0<tspan class="o">1</tspan></text>
<text transform="translate(665.30 1364.66) scale(0.952 1)">−0.03</text>
<text transform="translate(696.96 1364.66) scale(0.952 1)">−0.07</text>
<text transform="translate(728.62 1364.66) scale(0.952 1)">0.0<tspan class="o">1</tspan></text>
<text transform="translate(760.28 1364.66) scale(0.952 1)">−0.04</text>
<text transform="translate(791.94 1364.66) scale(0.952 1)">−0.04</text>
<text transform="translate(823.60 1364.66) scale(0.952 1)">−0.<tspan class="o">1</tspan>5</text>
<text transform="translate(570.32 1396.39) scale(0.952 1)">0.03</text>
<text transform="translate(601.98 1396.39) scale(0.952 1)">0</text>
<text transform="translate(633.64 1396.39) scale(0.952 1)">−0.02</text>
<text transform="translate(665.30 1396.39) scale(0.952 1)">−0.0<tspan class="o">1</tspan></text>
<text transform="translate(696.96 1396.39) scale(0.952 1)">−0.02</text>
<text transform="translate(728.62 1396.39) scale(0.952 1)">0.02</text>
<text transform="translate(760.28 1396.39) scale(0.952 1)">−0.03</text>
<text transform="translate(791.94 1396.39) scale(0.952 1)">−0.02</text>
<text transform="translate(823.60 1396.39) scale(0.952 1)">−0.05</text>
<text transform="translate(601.98 1428.12) scale(0.952 1)">0</text>
<text transform="translate(633.64 1428.12) scale(0.952 1)">−0.02</text>
<text transform="translate(665.30 1428.12) scale(0.952 1)">−0.02</text>
<text transform="translate(696.96 1428.12) scale(0.952 1)">−0.06</text>
<text transform="translate(728.62 1428.12) scale(0.952 1)">0.46</text>
<text transform="translate(760.28 1428.12) scale(0.952 1)">−0.07</text>
<text transform="translate(791.94 1428.12) scale(0.952 1)">−0.05</text>
<text transform="translate(823.60 1428.12) scale(0.952 1)">−0.03</text>
<text transform="translate(633.64 1459.85) scale(0.952 1)">0.06</text>
<text transform="translate(665.30 1459.85) scale(0.952 1)">−0.73</text>
<text transform="translate(696.96 1459.85) scale(0.952 1)">0.0<tspan class="o">1</tspan></text>
<text transform="translate(728.62 1459.85) scale(0.952 1)">0</text>
<text transform="translate(760.28 1459.85) scale(0.952 1)">0</text>
<text transform="translate(791.94 1459.85) scale(0.952 1)">0.0<tspan class="o">1</tspan></text>
<text transform="translate(823.60 1459.85) scale(0.952 1)">−0.02</text>
<text transform="translate(665.30 1491.58) scale(0.952 1)">−0.03</text>
<text transform="translate(696.96 1491.58) scale(0.952 1)">−0.02</text>
<text transform="translate(728.62 1491.58) scale(0.952 1)">−0.03</text>
<text transform="translate(760.28 1491.58) scale(0.952 1)">−0.03</text>
<text transform="translate(791.94 1491.58) scale(0.952 1)">−0.03</text>
<text transform="translate(823.60 1491.58) scale(0.952 1)">−0.04</text>
<text transform="translate(696.96 1523.31) scale(0.952 1)">−0.02</text>
<text transform="translate(728.62 1523.31) scale(0.952 1)">0.02</text>
<text transform="translate(760.28 1523.31) scale(0.952 1)">0.04</text>
<text transform="translate(791.94 1523.31) scale(0.952 1)">−0.02</text>
<text transform="translate(823.60 1523.31) scale(0.952 1)">0</text>
<text transform="translate(728.62 1555.04) scale(0.952 1)">0.03</text>
<text transform="translate(760.28 1555.04) scale(0.952 1)">0.27</text>
<text transform="translate(791.94 1555.04) scale(0.952 1)">0.84</text>
<text transform="translate(823.60 1555.04) scale(0.952 1)">0.76</text>
<text transform="translate(760.28 1586.77) scale(0.952 1)">0.02</text>
<text transform="translate(791.94 1586.77) scale(0.952 1)">0.03</text>
<text transform="translate(823.60 1586.77) scale(0.952 1)">0.02</text>
<text transform="translate(791.94 1618.50) scale(0.952 1)">0.32</text>
<text transform="translate(823.60 1618.50) scale(0.952 1)">0.26</text>
<text transform="translate(823.60 1650.23) scale(0.952 1)">0.74</text>
</g>
<g class="rl">
<text x="418.65" y="1269.47">SDReturns</text>
<text x="450.31" y="1301.20">Addresses</text>
<text x="481.97" y="1332.93">Fees</text>
<text x="513.63" y="1364.66">Hashrate</text>
<text x="545.29" y="1396.39">Inflation</text>
<text x="576.95" y="1428.12">Velocity</text>
<text x="608.61" y="1459.85">SP500</text>
<text x="640.27" y="1491.58">USDEUR</text>
<text x="671.93" y="1523.31">VIX</text>
<text x="703.59" y="1555.04">Volume</text>
<text x="735.25" y="1586.77">ExchangeRatio</text>
<text x="766.91" y="1618.50">GoogleMarket</text>
<text x="798.57" y="1650.23">GoogleCurrency</text>
</g>
<g class="tl">
<text transform="translate(449.68 1248.00) rotate(-45)">Addresses</text>
<text transform="translate(481.16 1247.92) rotate(-45)">Fees</text>
<text transform="translate(512.64 1247.84) rotate(-45)">Hashrate</text>
<text transform="translate(544.12 1247.76) rotate(-45)">Inflation</text>
<text transform="translate(575.60 1247.68) rotate(-45)">Velocity</text>
<text transform="translate(607.08 1247.60) rotate(-45)">SP500</text>
<text transform="translate(638.56 1247.52) rotate(-45)">USDEUR</text>
<text transform="translate(670.04 1247.44) rotate(-45)">VIX</text>
<text transform="translate(701.52 1247.36) rotate(-45)">Volume</text>
<text transform="translate(733.00 1247.28) rotate(-45)">ExchangeRatio</text>
<text transform="translate(764.48 1247.20) rotate(-45)">GoogleMarket</text>
<text transform="translate(795.96 1247.12) rotate(-45)">GoogleCurrency</text>
<text transform="translate(827.44 1247.04) rotate(-45)">Wiki</text>
</g>
<rect x="847.07" y="1249.60" width="15" height="411.23" fill="url(#g)" stroke="#111" stroke-width="1.5" shape-rendering="geometricPrecision"/>
<g class="cb">
<line x1="862.07" x2="865.87" y1="1249.60" y2="1249.60" stroke="#111" stroke-width="1.4" shape-rendering="geometricPrecision"/>
<text x="880.47" y="1255.90"><tspan class="o">1</tspan></text>
<line x1="862.07" x2="865.87" y1="1290.72" y2="1290.72" stroke="#111" stroke-width="1.4" shape-rendering="geometricPrecision"/>
<text x="880.47" y="1297.02">0.8</text>
<line x1="862.07" x2="865.87" y1="1331.85" y2="1331.85" stroke="#111" stroke-width="1.4" shape-rendering="geometricPrecision"/>
<text x="880.47" y="1338.15">0.6</text>
<line x1="862.07" x2="865.87" y1="1372.97" y2="1372.97" stroke="#111" stroke-width="1.4" shape-rendering="geometricPrecision"/>
<text x="880.47" y="1379.27">0.4</text>
<line x1="862.07" x2="865.87" y1="1414.09" y2="1414.09" stroke="#111" stroke-width="1.4" shape-rendering="geometricPrecision"/>
<text x="880.47" y="1420.39">0.2</text>
<line x1="862.07" x2="865.87" y1="1455.22" y2="1455.22" stroke="#111" stroke-width="1.4" shape-rendering="geometricPrecision"/>
<text x="880.47" y="1461.52">0</text>
<line x1="862.07" x2="865.87" y1="1496.34" y2="1496.34" stroke="#111" stroke-width="1.4" shape-rendering="geometricPrecision"/>
<text x="880.47" y="1502.64">−0.2</text>
<line x1="862.07" x2="865.87" y1="1537.46" y2="1537.46" stroke="#111" stroke-width="1.4" shape-rendering="geometricPrecision"/>
<text x="880.47" y="1543.76">−0.4</text>
<line x1="862.07" x2="865.87" y1="1578.58" y2="1578.58" stroke="#111" stroke-width="1.4" shape-rendering="geometricPrecision"/>
<text x="880.47" y="1584.88">−0.6</text>
<line x1="862.07" x2="865.87" y1="1619.71" y2="1619.71" stroke="#111" stroke-width="1.4" shape-rendering="geometricPrecision"/>
<text x="880.47" y="1626.01">−0.8</text>
<line x1="862.07" x2="865.87" y1="1660.83" y2="1660.83" stroke="#111" stroke-width="1.4" shape-rendering="geometricPrecision"/>
<text x="880.47" y="1667.13">−<tspan class="o">1</tspan></text>
</g>
<text class="ttl" x="387.2" y="1626.2">e) DOGE</text>
</g>
</svg>
</body></html>
